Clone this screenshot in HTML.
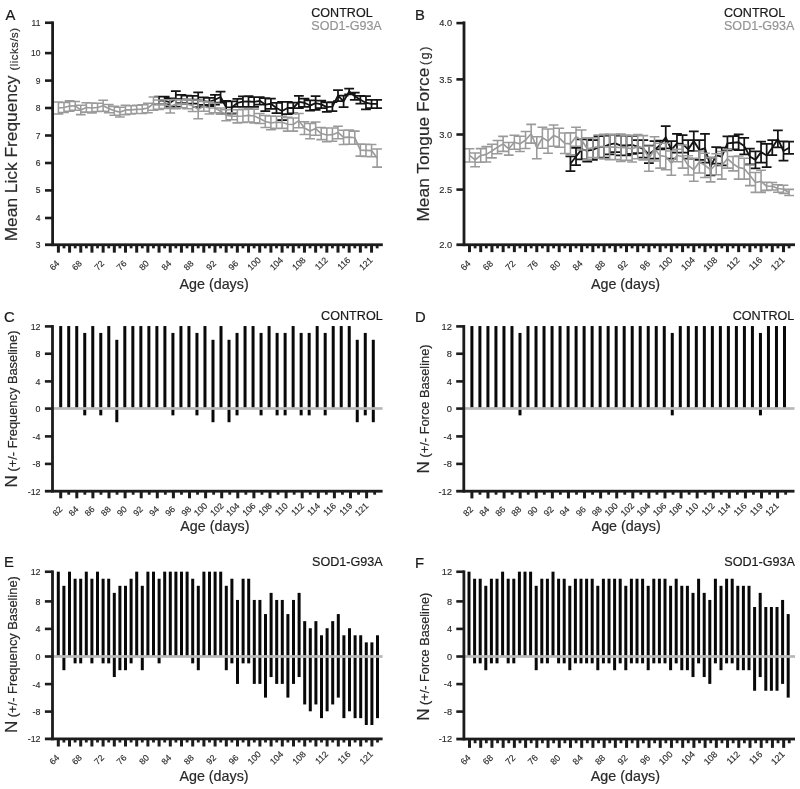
<!DOCTYPE html>
<html lang="en">
<head>
<meta charset="utf-8">
<title>Figure</title>
<style>html,body{margin:0;padding:0;background:#fff}svg{display:block}text{font-family:'Liberation Sans', Arial, Helvetica, sans-serif;stroke-linejoin:round}</style>
</head>
<body>
<svg width="800" height="789" viewBox="0 0 800 789" font-family='"Liberation Sans", Arial, Helvetica, sans-serif'>
<rect width="800" height="789" fill="#fff"/>
<path d="M159.06 96.72V104.43M154.16 96.72H163.96M154.16 104.43H163.96M164.65 96.72V104.43M159.75 96.72H169.55M159.75 104.43H169.55M170.24 98.38V106.63M165.34 98.38H175.14M165.34 106.63H175.14M175.83 91.23V106.62M170.93 91.23H180.73M170.93 106.62H180.73M181.42 94.8V103.05M176.52 94.8H186.32M176.52 103.05H186.32M187.02 95.62V103.87M182.12 95.62H191.92M182.12 103.87H191.92M192.61 95.9V103.6M187.71 95.9H197.51M187.71 103.6H197.51M198.2 92.32V107.17M193.3 92.32H203.1M193.3 107.17H203.1M203.79 97.27V104.98M198.89 97.27H208.69M198.89 104.98H208.69M209.38 97.82V106.07M204.48 97.82H214.28M204.48 106.07H214.28M214.98 94.8V104.7M210.08 94.8H219.88M210.08 104.7H219.88M220.57 91.5V102.5M215.67 91.5H225.47M215.67 102.5H225.47M226.16 100.85V113.5M221.26 100.85H231.06M221.26 113.5H231.06M231.75 101.4V113.5M226.85 101.4H236.65M226.85 113.5H236.65M237.34 98.92V106.9M232.44 98.92H242.24M232.44 106.9H242.24M242.94 96.45V106.9M238.04 96.45H247.84M238.04 106.9H247.84M248.53 96.18V106.9M243.63 96.18H253.43M243.63 106.9H253.43M254.12 97V106.9M249.22 97H259.02M249.22 106.9H259.02M259.71 97.14V104.56M254.81 97.14H264.61M254.81 104.56H264.61M265.3 98.1V111.03M260.4 98.1H270.2M260.4 111.03H270.2M270.9 98.65V108.83M266 98.65H275.8M266 108.83H275.8M276.49 102.91V113.09M271.59 102.91H281.39M271.59 113.09H281.39M282.08 101.81V120.24M277.18 101.81H286.98M277.18 120.24H286.98M287.67 101.81V114.19M282.77 101.81H292.57M282.77 114.19H292.57M293.26 102.64V113.36M288.36 102.64H298.16M288.36 113.36H298.16M298.86 95.9V108M293.96 95.9H303.76M293.96 108H303.76M304.45 98.65V106.9M299.55 98.65H309.35M299.55 106.9H309.35M310.04 100.44V110.61M305.14 100.44H314.94M305.14 110.61H314.94M315.63 96.18V109.93M310.73 96.18H320.53M310.73 109.93H320.53M321.22 100.71V108.14M316.32 100.71H326.12M316.32 108.14H326.12M326.82 102.36V111.99M321.92 102.36H331.72M321.92 111.99H331.72M332.41 102.09V111.16M327.51 102.09H337.31M327.51 111.16H337.31M338 90.13V101.12M333.1 90.13H342.9M333.1 101.12H342.9M343.59 95.62V107.18M338.69 95.62H348.49M338.69 107.18H348.49M349.18 88.61V94.39M344.28 88.61H354.08M344.28 94.39H354.08M354.78 92.6V99.75M349.88 92.6H359.68M349.88 99.75H359.68M360.37 95.76V103.74M355.47 95.76H365.27M355.47 103.74H365.27M365.96 96.18V109.38M361.06 96.18H370.86M361.06 109.38H370.86M371.55 99.75V108M366.65 99.75H376.45M366.65 108H376.45M377.14 99.75V108M372.24 99.75H382.04M372.24 108H382.04" stroke="#141414" stroke-width="1.75" fill="none"/>
<polyline points="159.06,100.58 164.65,100.58 170.24,102.5 175.83,98.92 181.42,98.92 187.02,99.75 192.61,99.75 198.2,99.75 203.79,101.12 209.38,101.95 214.98,99.75 220.57,97 226.16,107.18 231.75,107.45 237.34,102.91 242.94,101.67 248.53,101.54 254.12,101.95 259.71,100.85 265.3,104.56 270.9,103.74 276.49,108 282.08,111.03 287.67,108 293.26,108 298.86,101.95 304.45,102.78 310.04,105.53 315.63,103.05 321.22,104.42 326.82,107.18 332.41,106.62 338,95.63 343.59,101.4 349.18,91.5 354.78,96.18 360.37,99.75 365.96,102.78 371.55,103.87 377.14,103.87" stroke="#141414" stroke-width="1.85" fill="none" stroke-linejoin="round"/>
<path d="M58.4 101.95V114.05M53.5 101.95H63.3M53.5 114.05H63.3M63.99 102.5V112.4M59.09 102.5H68.89M59.09 112.4H68.89M69.58 100.85V111.3M64.68 100.85H74.48M64.68 111.3H74.48M75.18 101.4V110.2M70.28 101.4H80.08M70.28 110.2H80.08M80.77 105.25V114.6M75.87 105.25H85.67M75.87 114.6H85.67M86.36 102.78V112.13M81.46 102.78H91.26M81.46 112.13H91.26M91.95 103.05V112.95M87.05 103.05H96.85M87.05 112.95H96.85M97.54 103.33V111.58M92.64 103.33H102.44M92.64 111.58H102.44M103.14 100.3V111.3M98.24 100.3H108.04M98.24 111.3H108.04M108.73 104.42V112.67M103.83 104.42H113.63M103.83 112.67H113.63M114.32 106.35V115.15M109.42 106.35H119.22M109.42 115.15H119.22M119.91 107.18V117.08M115.01 107.18H124.81M115.01 117.08H124.81M125.5 105.25V114.6M120.6 105.25H130.4M120.6 114.6H130.4M131.1 105.8V114.05M126.2 105.8H136M126.2 114.05H136M136.69 105.25V113.5M131.79 105.25H141.59M131.79 113.5H141.59M142.28 104.7V113.5M137.38 104.7H147.18M137.38 113.5H147.18M147.87 103.33V112.67M142.97 103.33H152.77M142.97 112.67H152.77M153.46 97V110.2M148.56 97H158.36M148.56 110.2H158.36M159.06 100.03V109.38M154.16 100.03H163.96M154.16 109.38H163.96M164.65 99.75V108.55M159.75 99.75H169.55M159.75 108.55H169.55M170.24 99.75V112.95M165.34 99.75H175.14M165.34 112.95H175.14M175.83 99.47V108.82M170.93 99.47H180.73M170.93 108.82H180.73M181.42 100.02V107.73M176.52 100.02H186.32M176.52 107.73H186.32M187.02 98.92V108.82M182.12 98.92H191.92M182.12 108.82H191.92M192.61 100.02V111.58M187.71 100.02H197.51M187.71 111.58H197.51M198.2 100.02V118.72M193.3 100.02H203.1M193.3 118.72H203.1M203.79 101.4V111.3M198.89 101.4H208.69M198.89 111.3H208.69M209.38 101.95V114.05M204.48 101.95H214.28M204.48 114.05H214.28M214.98 103.33V112.67M210.08 103.33H219.88M210.08 112.67H219.88M220.57 108V114.33M215.67 108H225.47M215.67 114.33H225.47M226.16 109.65V120.65M221.26 109.65H231.06M221.26 120.65H231.06M231.75 112.67V119.82M226.85 112.67H236.65M226.85 119.82H236.65M237.34 109.65V122.85M232.44 109.65H242.24M232.44 122.85H242.24M242.94 109.38V122.58M238.04 109.38H247.84M238.04 122.58H247.84M248.53 108.82V122.02M243.63 108.82H253.43M243.63 122.02H253.43M254.12 109.1V122.85M249.22 109.1H259.02M249.22 122.85H259.02M259.71 113.5V123.4M254.81 113.5H264.61M254.81 123.4H264.61M265.3 115.43V127.53M260.4 115.43H270.2M260.4 127.53H270.2M270.9 115.97V129.72M266 115.97H275.8M266 129.72H275.8M276.49 116.25V128.35M271.59 116.25H281.39M271.59 128.35H281.39M282.08 116.25V128.35M277.18 116.25H286.98M277.18 128.35H286.98M287.67 117.35V131.1M282.77 117.35H292.57M282.77 131.1H292.57M293.26 117.9V131.1M288.36 117.9H298.16M288.36 131.1H298.16M298.86 113.5V127.8M293.96 113.5H303.76M293.96 127.8H303.76M304.45 121.75V134.4M299.55 121.75H309.35M299.55 134.4H309.35M310.04 123.4V138.8M305.14 123.4H314.94M305.14 138.8H314.94M315.63 122.02V135.22M310.73 122.02H320.53M310.73 135.22H320.53M321.22 127.53V139.62M316.32 127.53H326.12M316.32 139.62H326.12M326.82 128.08V141.83M321.92 128.08H331.72M321.92 141.83H331.72M332.41 128.07V141.28M327.51 128.07H337.31M327.51 141.28H337.31M338 126.15V138.8M333.1 126.15H342.9M333.1 138.8H342.9M343.59 130.28V144.57M338.69 130.28H348.49M338.69 144.57H348.49M349.18 130V144.3M344.28 130H354.08M344.28 144.3H354.08M354.78 131.1V144.3M349.88 131.1H359.68M349.88 144.3H359.68M360.37 144.03V156.12M355.47 144.03H365.27M355.47 156.12H365.27M365.96 144.3V156.4M361.06 144.3H370.86M361.06 156.4H370.86M371.55 144.57V156.67M366.65 144.57H376.45M366.65 156.67H376.45M377.14 148.98V167.12M372.24 148.98H382.04M372.24 167.12H382.04" stroke="#9a9a9a" stroke-width="1.55" fill="none"/>
<polyline points="58.4,108 63.99,107.45 69.58,106.07 75.18,105.8 80.77,109.93 86.36,107.45 91.95,108 97.54,107.45 103.14,105.8 108.73,108.55 114.32,110.75 119.91,112.13 125.5,109.93 131.1,109.93 136.69,109.38 142.28,109.1 147.87,108 153.46,103.6 159.06,104.7 164.65,104.15 170.24,106.35 175.83,104.15 181.42,103.87 187.02,103.87 192.61,105.8 198.2,109.38 203.79,106.35 209.38,108 214.98,108 220.57,111.16 226.16,115.15 231.75,116.25 237.34,116.25 242.94,115.97 248.53,115.42 254.12,115.97 259.71,118.45 265.3,121.48 270.9,122.85 276.49,122.3 282.08,122.3 287.67,124.22 293.26,124.5 298.86,120.65 304.45,128.08 310.04,131.1 315.63,128.62 321.22,133.57 326.82,134.95 332.41,134.67 338,132.47 343.59,137.43 349.18,137.15 354.78,137.7 360.37,150.08 365.96,150.35 371.55,150.62 377.14,158.05" stroke="#9a9a9a" stroke-width="1.65" fill="none" stroke-linejoin="round"/>
<rect x="51.2" y="21.4" width="2.8" height="224.75" fill="#1c1c1c"/>
<rect x="45" y="243.35" width="337.8" height="2.8" fill="#1c1c1c"/>
<rect x="45" y="21.45" width="7.6" height="2.6" fill="#1c1c1c"/>
<text x="40.4" y="25.8" font-size="8.5" text-anchor="end" fill="#2a2a2a" stroke="#2a2a2a" stroke-width="0.13">11</text>
<rect x="45" y="51.8" width="7.6" height="2.6" fill="#1c1c1c"/>
<text x="40.4" y="56.15" font-size="8.5" text-anchor="end" fill="#2a2a2a" stroke="#2a2a2a" stroke-width="0.13">10</text>
<rect x="45" y="79.3" width="7.6" height="2.6" fill="#1c1c1c"/>
<text x="40.4" y="83.65" font-size="8.5" text-anchor="end" fill="#2a2a2a" stroke="#2a2a2a" stroke-width="0.13">9</text>
<rect x="45" y="106.7" width="7.6" height="2.6" fill="#1c1c1c"/>
<text x="40.4" y="111.05" font-size="8.5" text-anchor="end" fill="#2a2a2a" stroke="#2a2a2a" stroke-width="0.13">8</text>
<rect x="45" y="134.2" width="7.6" height="2.6" fill="#1c1c1c"/>
<text x="40.4" y="138.55" font-size="8.5" text-anchor="end" fill="#2a2a2a" stroke="#2a2a2a" stroke-width="0.13">7</text>
<rect x="45" y="161.7" width="7.6" height="2.6" fill="#1c1c1c"/>
<text x="40.4" y="166.05" font-size="8.5" text-anchor="end" fill="#2a2a2a" stroke="#2a2a2a" stroke-width="0.13">6</text>
<rect x="45" y="189.1" width="7.6" height="2.6" fill="#1c1c1c"/>
<text x="40.4" y="193.45" font-size="8.5" text-anchor="end" fill="#2a2a2a" stroke="#2a2a2a" stroke-width="0.13">5</text>
<rect x="45" y="216.7" width="7.6" height="2.6" fill="#1c1c1c"/>
<text x="40.4" y="221.05" font-size="8.5" text-anchor="end" fill="#2a2a2a" stroke="#2a2a2a" stroke-width="0.13">4</text>
<text x="40.4" y="247.8" font-size="8.5" text-anchor="end" fill="#2a2a2a" stroke="#2a2a2a" stroke-width="0.13">3</text>
<rect x="56.9" y="244.75" width="3" height="7.9" fill="#1c1c1c"/>
<text x="60.1" y="264.15" font-size="8.8" text-anchor="end" fill="#2a2a2a" stroke="#2a2a2a" stroke-width="0.13" transform="rotate(-45 60.1 264.15)">64</text>
<rect x="62.59" y="244.75" width="2.8" height="3.6" fill="#1c1c1c"/>
<rect x="68.08" y="244.75" width="3" height="7.9" fill="#1c1c1c"/>
<rect x="73.78" y="244.75" width="2.8" height="3.6" fill="#1c1c1c"/>
<rect x="79.27" y="244.75" width="3" height="7.9" fill="#1c1c1c"/>
<text x="82.47" y="264.15" font-size="8.8" text-anchor="end" fill="#2a2a2a" stroke="#2a2a2a" stroke-width="0.13" transform="rotate(-45 82.47 264.15)">68</text>
<rect x="84.96" y="244.75" width="2.8" height="3.6" fill="#1c1c1c"/>
<rect x="90.45" y="244.75" width="3" height="7.9" fill="#1c1c1c"/>
<rect x="96.14" y="244.75" width="2.8" height="3.6" fill="#1c1c1c"/>
<rect x="101.64" y="244.75" width="3" height="7.9" fill="#1c1c1c"/>
<text x="104.84" y="264.15" font-size="8.8" text-anchor="end" fill="#2a2a2a" stroke="#2a2a2a" stroke-width="0.13" transform="rotate(-45 104.84 264.15)">72</text>
<rect x="107.33" y="244.75" width="2.8" height="3.6" fill="#1c1c1c"/>
<rect x="112.82" y="244.75" width="3" height="7.9" fill="#1c1c1c"/>
<rect x="118.51" y="244.75" width="2.8" height="3.6" fill="#1c1c1c"/>
<rect x="124" y="244.75" width="3" height="7.9" fill="#1c1c1c"/>
<text x="127.2" y="264.15" font-size="8.8" text-anchor="end" fill="#2a2a2a" stroke="#2a2a2a" stroke-width="0.13" transform="rotate(-45 127.2 264.15)">76</text>
<rect x="129.7" y="244.75" width="2.8" height="3.6" fill="#1c1c1c"/>
<rect x="135.19" y="244.75" width="3" height="7.9" fill="#1c1c1c"/>
<rect x="140.88" y="244.75" width="2.8" height="3.6" fill="#1c1c1c"/>
<rect x="146.37" y="244.75" width="3" height="7.9" fill="#1c1c1c"/>
<text x="149.57" y="264.15" font-size="8.8" text-anchor="end" fill="#2a2a2a" stroke="#2a2a2a" stroke-width="0.13" transform="rotate(-45 149.57 264.15)">80</text>
<rect x="152.06" y="244.75" width="2.8" height="3.6" fill="#1c1c1c"/>
<rect x="157.56" y="244.75" width="3" height="7.9" fill="#1c1c1c"/>
<rect x="163.25" y="244.75" width="2.8" height="3.6" fill="#1c1c1c"/>
<rect x="168.74" y="244.75" width="3" height="7.9" fill="#1c1c1c"/>
<text x="171.94" y="264.15" font-size="8.8" text-anchor="end" fill="#2a2a2a" stroke="#2a2a2a" stroke-width="0.13" transform="rotate(-45 171.94 264.15)">84</text>
<rect x="174.43" y="244.75" width="2.8" height="3.6" fill="#1c1c1c"/>
<rect x="179.92" y="244.75" width="3" height="7.9" fill="#1c1c1c"/>
<rect x="185.62" y="244.75" width="2.8" height="3.6" fill="#1c1c1c"/>
<rect x="191.11" y="244.75" width="3" height="7.9" fill="#1c1c1c"/>
<text x="194.31" y="264.15" font-size="8.8" text-anchor="end" fill="#2a2a2a" stroke="#2a2a2a" stroke-width="0.13" transform="rotate(-45 194.31 264.15)">88</text>
<rect x="196.8" y="244.75" width="2.8" height="3.6" fill="#1c1c1c"/>
<rect x="202.29" y="244.75" width="3" height="7.9" fill="#1c1c1c"/>
<rect x="207.98" y="244.75" width="2.8" height="3.6" fill="#1c1c1c"/>
<rect x="213.48" y="244.75" width="3" height="7.9" fill="#1c1c1c"/>
<text x="216.68" y="264.15" font-size="8.8" text-anchor="end" fill="#2a2a2a" stroke="#2a2a2a" stroke-width="0.13" transform="rotate(-45 216.68 264.15)">92</text>
<rect x="219.17" y="244.75" width="2.8" height="3.6" fill="#1c1c1c"/>
<rect x="224.66" y="244.75" width="3" height="7.9" fill="#1c1c1c"/>
<rect x="230.35" y="244.75" width="2.8" height="3.6" fill="#1c1c1c"/>
<rect x="235.84" y="244.75" width="3" height="7.9" fill="#1c1c1c"/>
<text x="239.04" y="264.15" font-size="8.8" text-anchor="end" fill="#2a2a2a" stroke="#2a2a2a" stroke-width="0.13" transform="rotate(-45 239.04 264.15)">96</text>
<rect x="241.54" y="244.75" width="2.8" height="3.6" fill="#1c1c1c"/>
<rect x="247.03" y="244.75" width="3" height="7.9" fill="#1c1c1c"/>
<rect x="252.72" y="244.75" width="2.8" height="3.6" fill="#1c1c1c"/>
<rect x="258.21" y="244.75" width="3" height="7.9" fill="#1c1c1c"/>
<text x="261.41" y="260.69" font-size="8.8" text-anchor="end" fill="#2a2a2a" stroke="#2a2a2a" stroke-width="0.13" transform="rotate(-45 261.41 260.69)">100</text>
<rect x="263.9" y="244.75" width="2.8" height="3.6" fill="#1c1c1c"/>
<rect x="269.4" y="244.75" width="3" height="7.9" fill="#1c1c1c"/>
<rect x="275.09" y="244.75" width="2.8" height="3.6" fill="#1c1c1c"/>
<rect x="280.58" y="244.75" width="3" height="7.9" fill="#1c1c1c"/>
<text x="283.78" y="260.69" font-size="8.8" text-anchor="end" fill="#2a2a2a" stroke="#2a2a2a" stroke-width="0.13" transform="rotate(-45 283.78 260.69)">104</text>
<rect x="286.27" y="244.75" width="2.8" height="3.6" fill="#1c1c1c"/>
<rect x="291.76" y="244.75" width="3" height="7.9" fill="#1c1c1c"/>
<rect x="297.46" y="244.75" width="2.8" height="3.6" fill="#1c1c1c"/>
<rect x="302.95" y="244.75" width="3" height="7.9" fill="#1c1c1c"/>
<text x="306.15" y="260.69" font-size="8.8" text-anchor="end" fill="#2a2a2a" stroke="#2a2a2a" stroke-width="0.13" transform="rotate(-45 306.15 260.69)">108</text>
<rect x="308.64" y="244.75" width="2.8" height="3.6" fill="#1c1c1c"/>
<rect x="314.13" y="244.75" width="3" height="7.9" fill="#1c1c1c"/>
<rect x="319.82" y="244.75" width="2.8" height="3.6" fill="#1c1c1c"/>
<rect x="325.32" y="244.75" width="3" height="7.9" fill="#1c1c1c"/>
<text x="328.52" y="260.69" font-size="8.8" text-anchor="end" fill="#2a2a2a" stroke="#2a2a2a" stroke-width="0.13" transform="rotate(-45 328.52 260.69)">112</text>
<rect x="331.01" y="244.75" width="2.8" height="3.6" fill="#1c1c1c"/>
<rect x="336.5" y="244.75" width="3" height="7.9" fill="#1c1c1c"/>
<rect x="342.19" y="244.75" width="2.8" height="3.6" fill="#1c1c1c"/>
<rect x="347.68" y="244.75" width="3" height="7.9" fill="#1c1c1c"/>
<text x="350.88" y="260.69" font-size="8.8" text-anchor="end" fill="#2a2a2a" stroke="#2a2a2a" stroke-width="0.13" transform="rotate(-45 350.88 260.69)">116</text>
<rect x="353.38" y="244.75" width="2.8" height="3.6" fill="#1c1c1c"/>
<rect x="358.87" y="244.75" width="3" height="7.9" fill="#1c1c1c"/>
<rect x="364.56" y="244.75" width="2.8" height="3.6" fill="#1c1c1c"/>
<rect x="370.05" y="244.75" width="3" height="7.9" fill="#1c1c1c"/>
<text x="373.25" y="260.69" font-size="8.8" text-anchor="end" fill="#2a2a2a" stroke="#2a2a2a" stroke-width="0.13" transform="rotate(-45 373.25 260.69)">121</text>
<rect x="375.74" y="244.75" width="2.8" height="3.6" fill="#1c1c1c"/>
<text x="214.1" y="288.5" font-size="14.3" text-anchor="middle" fill="#2a2a2a" stroke="#2a2a2a" stroke-width="0.21">Age (days)</text>
<text x="5.6" y="19.6" font-size="14.8" text-anchor="start" fill="#1a1a1a" stroke="#1a1a1a" stroke-width="0.22">A</text>
<text x="17.2" y="241.3" transform="rotate(-90 17.2 241.3)" fill="#2a2a2a" stroke="#2a2a2a" stroke-width="0.2" font-size="17.33">Mean Lick Frequency</text>
<text x="18.2" y="70.6" transform="rotate(-90 18.2 70.6)" fill="#2a2a2a" stroke="#2a2a2a" stroke-width="0.2" font-size="11.3" letter-spacing="0.55">(licks/s)</text>
<text x="311.3" y="17.2" font-size="12.55" text-anchor="start" fill="#1a1a1a" stroke="#1a1a1a" stroke-width="0.19">CONTROL</text>
<text x="311.3" y="30" font-size="12.55" text-anchor="start" fill="#949494" stroke="#949494" stroke-width="0.19">SOD1-G93A</text>
<path d="M570.43 156.32V171.09M565.53 156.32H575.33M565.53 171.09H575.33M576.03 147.94V165.14M571.13 147.94H580.93M571.13 165.14H580.93M581.64 139.46V159.29M576.74 139.46H586.54M576.74 159.29H586.54M587.25 139.46V161.5M582.35 139.46H592.15M582.35 161.5H592.15M592.85 140.01V159.85M587.95 140.01H597.75M587.95 159.85H597.75M598.46 136.15V158.19M593.56 136.15H603.36M593.56 158.19H603.36M604.07 135.6V157.64M599.17 135.6H608.97M599.17 157.64H608.97M609.67 134.5V154.34M604.77 134.5H614.57M604.77 154.34H614.57M615.28 134.5V152.13M610.38 134.5H620.18M610.38 152.13H620.18M620.89 135.6V155.44M615.99 135.6H625.79M615.99 155.44H625.79M626.5 135.6V155.44M621.6 135.6H631.4M621.6 155.44H631.4M632.1 136.15V153.79M627.2 136.15H637M627.2 153.79H637M637.71 140.01V153.23M632.81 140.01H642.61M632.81 153.23H642.61M643.32 140.01V157.64M638.42 140.01H648.22M638.42 157.64H648.22M648.92 145.52V163.15M644.02 145.52H653.82M644.02 163.15H653.82M654.53 141.11V158.74M649.63 141.11H659.43M649.63 158.74H659.43M660.14 140.56V149.38M655.24 140.56H665.04M655.24 149.38H665.04M665.75 126.23V148.28M660.85 126.23H670.64M660.85 148.28H670.64M671.35 141.11V158.74M666.45 141.11H676.25M666.45 158.74H676.25M676.96 133.95V152.68M672.06 133.95H681.86M672.06 152.68H681.86M682.57 135.05V152.68M677.67 135.05H687.47M677.67 152.68H687.47M688.17 140.01V158.74M683.27 140.01H693.07M683.27 158.74H693.07M693.78 131.41V150.81M688.88 131.41H698.68M688.88 150.81H698.68M699.39 140.01V159.85M694.49 140.01H704.29M694.49 159.85H704.29M704.99 133.95V162.6M700.09 133.95H709.89M700.09 162.6H709.89M710.6 157.64V175.27M705.7 157.64H715.5M705.7 175.27H715.5M716.21 147.17V163.7M711.31 147.17H721.11M711.31 163.7H721.11M721.82 147.72V165.36M716.92 147.72H726.72M716.92 165.36H726.72M727.42 136.37V150.26M722.52 136.37H732.32M722.52 150.26H732.32M733.03 136.15V149.38M728.13 136.15H737.93M728.13 149.38H737.93M738.64 134.28V150.15M733.74 134.28H743.54M733.74 150.15H743.54M744.24 137.81V154.34M739.34 137.81H749.14M739.34 154.34H749.14M749.85 148.61V164.47M744.95 148.61H754.75M744.95 164.47H754.75M755.46 151.25V168.44M750.56 151.25H760.36M750.56 168.44H760.36M761.06 141.66V162.6M756.16 141.66H765.96M756.16 162.6H765.96M766.67 143.87V167.01M761.77 143.87H771.57M761.77 167.01H771.57M772.28 140.23V155.22M767.38 140.23H777.18M767.38 155.22H777.18M777.88 130.42V147.39M772.99 130.42H782.78M772.99 147.39H782.78M783.49 141.33V160.73M778.59 141.33H788.39M778.59 160.73H788.39M789.1 141.66V153.79M784.2 141.66H794M784.2 153.79H794" stroke="#141414" stroke-width="1.75" fill="none"/>
<polyline points="570.43,163.7 576.03,156.54 581.64,149.38 587.25,150.48 592.85,149.93 598.46,147.17 604.07,146.62 609.67,144.42 615.28,143.32 620.89,145.52 626.5,145.52 632.1,144.97 637.71,146.62 643.32,148.83 648.92,154.34 654.53,149.93 660.14,144.97 665.75,137.25 671.35,149.93 676.96,143.32 682.57,143.87 688.17,149.38 693.78,141.11 699.39,149.93 704.99,148.28 710.6,166.46 716.21,155.44 721.82,156.54 727.42,143.32 733.03,142.77 738.64,142.21 744.24,146.07 749.85,156.54 755.46,159.85 761.06,152.13 766.67,155.44 772.28,147.72 777.88,138.91 783.49,151.03 789.1,147.72" stroke="#141414" stroke-width="1.85" fill="none" stroke-linejoin="round"/>
<path d="M469.5 148.83V162.05M464.6 148.83H474.4M464.6 162.05H474.4M475.11 153.01V166.68M470.21 153.01H480.01M470.21 166.68H480.01M480.71 148.61V162.27M475.81 148.61H485.61M475.81 162.27H485.61M486.32 146.62V162.05M481.42 146.62H491.22M481.42 162.05H491.22M491.93 144.2V157.86M487.03 144.2H496.83M487.03 157.86H496.83M497.54 140.56V153.79M492.64 140.56H502.44M492.64 153.79H502.44M503.14 136.37V151.36M498.24 136.37H508.04M498.24 151.36H508.04M508.75 142.54V155.11M503.85 142.54H513.65M503.85 155.11H513.65M514.36 135.16V149.27M509.46 135.16H519.26M509.46 149.27H519.26M519.96 136.15V151.58M515.06 136.15H524.86M515.06 151.58H524.86M525.57 131.52V148.5M520.67 131.52H530.47M520.67 148.5H530.47M531.18 124.36V143.1M526.28 124.36H536.08M526.28 143.1H536.08M536.78 136.7V158.74M531.88 136.7H541.68M531.88 158.74H541.68M542.39 127.34V148.28M537.49 127.34H547.29M537.49 148.28H547.29M548 128.99V153.23M543.1 128.99H552.9M543.1 153.23H552.9M553.61 124.91V146.29M548.71 124.91H558.5M548.71 146.29H558.5M559.21 128.33V147.28M554.31 128.33H564.11M554.31 147.28H564.11M564.82 133.07V153.56M559.92 133.07H569.72M559.92 153.56H569.72M570.43 132.85V154.89M565.53 132.85H575.33M565.53 154.89H575.33M576.03 127.23V146.18M571.13 127.23H580.93M571.13 146.18H580.93M581.64 130.09V149.93M576.74 130.09H586.54M576.74 149.93H586.54M587.25 137.81V159.85M582.35 137.81H592.15M582.35 159.85H592.15M592.85 137.81V157.64M587.95 137.81H597.75M587.95 157.64H597.75M598.46 135.05V158.19M593.56 135.05H603.36M593.56 158.19H603.36M604.07 134.17V159.07M599.17 134.17H608.97M599.17 159.07H608.97M609.67 134.72V159.63M604.77 134.72H614.57M604.77 159.63H614.57M615.28 134.72V159.63M610.38 134.72H620.18M610.38 159.63H620.18M620.89 133.95V161.5M615.99 133.95H625.79M615.99 161.5H625.79M626.5 135.27V160.18M621.6 135.27H631.4M621.6 160.18H631.4M632.1 135.6V162.05M627.2 135.6H637M627.2 162.05H637M637.71 134.5V158.74M632.81 134.5H642.61M632.81 158.74H642.61M643.32 135.6V159.85M638.42 135.6H648.22M638.42 159.85H648.22M648.92 146.29V171.2M644.02 146.29H653.82M644.02 171.2H653.82M654.53 136.7V160.95M649.63 136.7H659.43M649.63 160.95H659.43M660.14 143.21V168.11M655.24 143.21H665.04M655.24 168.11H665.04M665.75 143.32V169.76M660.85 143.32H670.64M660.85 169.76H670.64M671.35 151.03V175.27M666.45 151.03H676.25M666.45 175.27H676.25M676.96 149.16V161.72M672.06 149.16H681.86M672.06 161.72H681.86M682.57 144.97V168.11M677.67 144.97H687.47M677.67 168.11H687.47M688.17 155.77V174.94M683.27 155.77H693.07M683.27 174.94H693.07M693.78 158.19V181.33M688.88 158.19H698.68M688.88 181.33H698.68M699.39 151.03V173.07M694.49 151.03H704.29M694.49 173.07H704.29M704.99 153.23V177.48M700.09 153.23H709.89M700.09 177.48H709.89M710.6 157.64V181.89M705.7 157.64H715.5M705.7 181.89H715.5M716.21 153.78V174.72M711.31 153.78H721.11M711.31 174.72H721.11M721.82 151.58V179.13M716.92 151.58H726.72M716.92 179.13H726.72M727.42 149.38V168.11M722.52 149.38H732.32M722.52 168.11H732.32M733.03 156.54V170.87M728.13 156.54H737.93M728.13 170.87H737.93M738.64 155.99V179.13M733.74 155.99H743.54M733.74 179.13H743.54M744.24 158.19V179.13M739.34 158.19H749.14M739.34 179.13H749.14M749.85 164.92V185.63M744.95 164.92H754.75M744.95 185.63H754.75M755.46 172.52V192.35M750.56 172.52H760.36M750.56 192.35H760.36M761.06 170.31V192.35M756.16 170.31H765.96M756.16 192.35H765.96M766.67 182.22V190.37M761.77 182.22H771.57M761.77 190.37H771.57M772.28 182.55V190.04M767.38 182.55H777.18M767.38 190.04H777.18M777.88 184.75V192.24M772.99 184.75H782.78M772.99 192.24H782.78M783.49 185.19V193.35M778.59 185.19H788.39M778.59 193.35H788.39M789.1 189.38V195.55M784.2 189.38H794M784.2 195.55H794" stroke="#9a9a9a" stroke-width="1.55" fill="none"/>
<polyline points="469.5,155.44 475.11,159.85 480.71,155.44 486.32,154.34 491.93,151.03 497.54,147.17 503.14,143.87 508.75,148.83 514.36,142.21 519.96,143.87 525.57,140.01 531.18,133.73 536.78,147.72 542.39,137.81 548,141.11 553.61,135.6 559.21,137.81 564.82,143.32 570.43,143.87 576.03,136.7 581.64,140.01 587.25,148.83 592.85,147.72 598.46,146.62 604.07,146.62 609.67,147.17 615.28,147.17 620.89,147.72 626.5,147.72 632.1,148.83 637.71,146.62 643.32,147.72 648.92,158.74 654.53,148.83 660.14,155.66 665.75,156.54 671.35,163.15 676.96,155.44 682.57,156.54 688.17,165.36 693.78,169.76 699.39,162.05 704.99,165.36 710.6,169.76 716.21,164.25 721.82,165.36 727.42,158.74 733.03,163.7 738.64,167.56 744.24,168.66 749.85,175.27 755.46,182.44 761.06,181.33 766.67,186.29 772.28,186.29 777.88,188.5 783.49,189.27 789.1,192.47" stroke="#9a9a9a" stroke-width="1.65" fill="none" stroke-linejoin="round"/>
<rect x="462.6" y="21.4" width="2.8" height="224.75" fill="#1c1c1c"/>
<rect x="456.4" y="243.35" width="338.6" height="2.8" fill="#1c1c1c"/>
<rect x="456.4" y="21.8" width="7.6" height="2.6" fill="#1c1c1c"/>
<text x="452.1" y="26.4" font-size="9.3" text-anchor="end" fill="#2a2a2a" stroke="#2a2a2a" stroke-width="0.14">4.0</text>
<rect x="456.4" y="78.1" width="7.6" height="2.6" fill="#1c1c1c"/>
<text x="452.1" y="82.7" font-size="9.3" text-anchor="end" fill="#2a2a2a" stroke="#2a2a2a" stroke-width="0.14">3.5</text>
<rect x="456.4" y="133.2" width="7.6" height="2.6" fill="#1c1c1c"/>
<text x="452.1" y="137.8" font-size="9.3" text-anchor="end" fill="#2a2a2a" stroke="#2a2a2a" stroke-width="0.14">3.0</text>
<rect x="456.4" y="188.3" width="7.6" height="2.6" fill="#1c1c1c"/>
<text x="452.1" y="192.9" font-size="9.3" text-anchor="end" fill="#2a2a2a" stroke="#2a2a2a" stroke-width="0.14">2.5</text>
<text x="452.1" y="248.05" font-size="9.3" text-anchor="end" fill="#2a2a2a" stroke="#2a2a2a" stroke-width="0.14">2.0</text>
<rect x="468" y="244.75" width="3" height="7.4" fill="#1c1c1c"/>
<text x="471.3" y="264.15" font-size="9.1" text-anchor="end" fill="#2a2a2a" stroke="#2a2a2a" stroke-width="0.14" transform="rotate(-45 471.3 264.15)">64</text>
<rect x="473.71" y="244.75" width="2.8" height="3.6" fill="#1c1c1c"/>
<rect x="479.21" y="244.75" width="3" height="7.4" fill="#1c1c1c"/>
<rect x="484.92" y="244.75" width="2.8" height="3.6" fill="#1c1c1c"/>
<rect x="490.43" y="244.75" width="3" height="7.4" fill="#1c1c1c"/>
<text x="493.73" y="264.15" font-size="9.1" text-anchor="end" fill="#2a2a2a" stroke="#2a2a2a" stroke-width="0.14" transform="rotate(-45 493.73 264.15)">68</text>
<rect x="496.14" y="244.75" width="2.8" height="3.6" fill="#1c1c1c"/>
<rect x="501.64" y="244.75" width="3" height="7.4" fill="#1c1c1c"/>
<rect x="507.35" y="244.75" width="2.8" height="3.6" fill="#1c1c1c"/>
<rect x="512.86" y="244.75" width="3" height="7.4" fill="#1c1c1c"/>
<text x="516.16" y="264.15" font-size="9.1" text-anchor="end" fill="#2a2a2a" stroke="#2a2a2a" stroke-width="0.14" transform="rotate(-45 516.16 264.15)">72</text>
<rect x="518.56" y="244.75" width="2.8" height="3.6" fill="#1c1c1c"/>
<rect x="524.07" y="244.75" width="3" height="7.4" fill="#1c1c1c"/>
<rect x="529.78" y="244.75" width="2.8" height="3.6" fill="#1c1c1c"/>
<rect x="535.28" y="244.75" width="3" height="7.4" fill="#1c1c1c"/>
<text x="538.58" y="264.15" font-size="9.1" text-anchor="end" fill="#2a2a2a" stroke="#2a2a2a" stroke-width="0.14" transform="rotate(-45 538.58 264.15)">76</text>
<rect x="540.99" y="244.75" width="2.8" height="3.6" fill="#1c1c1c"/>
<rect x="546.5" y="244.75" width="3" height="7.4" fill="#1c1c1c"/>
<rect x="552.21" y="244.75" width="2.8" height="3.6" fill="#1c1c1c"/>
<rect x="557.71" y="244.75" width="3" height="7.4" fill="#1c1c1c"/>
<text x="561.01" y="264.15" font-size="9.1" text-anchor="end" fill="#2a2a2a" stroke="#2a2a2a" stroke-width="0.14" transform="rotate(-45 561.01 264.15)">80</text>
<rect x="563.42" y="244.75" width="2.8" height="3.6" fill="#1c1c1c"/>
<rect x="568.93" y="244.75" width="3" height="7.4" fill="#1c1c1c"/>
<rect x="574.63" y="244.75" width="2.8" height="3.6" fill="#1c1c1c"/>
<rect x="580.14" y="244.75" width="3" height="7.4" fill="#1c1c1c"/>
<text x="583.44" y="264.15" font-size="9.1" text-anchor="end" fill="#2a2a2a" stroke="#2a2a2a" stroke-width="0.14" transform="rotate(-45 583.44 264.15)">84</text>
<rect x="585.85" y="244.75" width="2.8" height="3.6" fill="#1c1c1c"/>
<rect x="591.35" y="244.75" width="3" height="7.4" fill="#1c1c1c"/>
<rect x="597.06" y="244.75" width="2.8" height="3.6" fill="#1c1c1c"/>
<rect x="602.57" y="244.75" width="3" height="7.4" fill="#1c1c1c"/>
<text x="605.87" y="264.15" font-size="9.1" text-anchor="end" fill="#2a2a2a" stroke="#2a2a2a" stroke-width="0.14" transform="rotate(-45 605.87 264.15)">88</text>
<rect x="608.27" y="244.75" width="2.8" height="3.6" fill="#1c1c1c"/>
<rect x="613.78" y="244.75" width="3" height="7.4" fill="#1c1c1c"/>
<rect x="619.49" y="244.75" width="2.8" height="3.6" fill="#1c1c1c"/>
<rect x="625" y="244.75" width="3" height="7.4" fill="#1c1c1c"/>
<text x="628.3" y="264.15" font-size="9.1" text-anchor="end" fill="#2a2a2a" stroke="#2a2a2a" stroke-width="0.14" transform="rotate(-45 628.3 264.15)">92</text>
<rect x="630.7" y="244.75" width="2.8" height="3.6" fill="#1c1c1c"/>
<rect x="636.21" y="244.75" width="3" height="7.4" fill="#1c1c1c"/>
<rect x="641.92" y="244.75" width="2.8" height="3.6" fill="#1c1c1c"/>
<rect x="647.42" y="244.75" width="3" height="7.4" fill="#1c1c1c"/>
<text x="650.72" y="264.15" font-size="9.1" text-anchor="end" fill="#2a2a2a" stroke="#2a2a2a" stroke-width="0.14" transform="rotate(-45 650.72 264.15)">96</text>
<rect x="653.13" y="244.75" width="2.8" height="3.6" fill="#1c1c1c"/>
<rect x="658.64" y="244.75" width="3" height="7.4" fill="#1c1c1c"/>
<rect x="664.35" y="244.75" width="2.8" height="3.6" fill="#1c1c1c"/>
<rect x="669.85" y="244.75" width="3" height="7.4" fill="#1c1c1c"/>
<text x="673.15" y="260.57" font-size="9.1" text-anchor="end" fill="#2a2a2a" stroke="#2a2a2a" stroke-width="0.14" transform="rotate(-45 673.15 260.57)">100</text>
<rect x="675.56" y="244.75" width="2.8" height="3.6" fill="#1c1c1c"/>
<rect x="681.07" y="244.75" width="3" height="7.4" fill="#1c1c1c"/>
<rect x="686.77" y="244.75" width="2.8" height="3.6" fill="#1c1c1c"/>
<rect x="692.28" y="244.75" width="3" height="7.4" fill="#1c1c1c"/>
<text x="695.58" y="260.57" font-size="9.1" text-anchor="end" fill="#2a2a2a" stroke="#2a2a2a" stroke-width="0.14" transform="rotate(-45 695.58 260.57)">104</text>
<rect x="697.99" y="244.75" width="2.8" height="3.6" fill="#1c1c1c"/>
<rect x="703.49" y="244.75" width="3" height="7.4" fill="#1c1c1c"/>
<rect x="709.2" y="244.75" width="2.8" height="3.6" fill="#1c1c1c"/>
<rect x="714.71" y="244.75" width="3" height="7.4" fill="#1c1c1c"/>
<text x="718.01" y="260.57" font-size="9.1" text-anchor="end" fill="#2a2a2a" stroke="#2a2a2a" stroke-width="0.14" transform="rotate(-45 718.01 260.57)">108</text>
<rect x="720.42" y="244.75" width="2.8" height="3.6" fill="#1c1c1c"/>
<rect x="725.92" y="244.75" width="3" height="7.4" fill="#1c1c1c"/>
<rect x="731.63" y="244.75" width="2.8" height="3.6" fill="#1c1c1c"/>
<rect x="737.14" y="244.75" width="3" height="7.4" fill="#1c1c1c"/>
<text x="740.44" y="260.57" font-size="9.1" text-anchor="end" fill="#2a2a2a" stroke="#2a2a2a" stroke-width="0.14" transform="rotate(-45 740.44 260.57)">112</text>
<rect x="742.84" y="244.75" width="2.8" height="3.6" fill="#1c1c1c"/>
<rect x="748.35" y="244.75" width="3" height="7.4" fill="#1c1c1c"/>
<rect x="754.06" y="244.75" width="2.8" height="3.6" fill="#1c1c1c"/>
<rect x="759.56" y="244.75" width="3" height="7.4" fill="#1c1c1c"/>
<text x="762.86" y="260.57" font-size="9.1" text-anchor="end" fill="#2a2a2a" stroke="#2a2a2a" stroke-width="0.14" transform="rotate(-45 762.86 260.57)">116</text>
<rect x="765.27" y="244.75" width="2.8" height="3.6" fill="#1c1c1c"/>
<rect x="770.78" y="244.75" width="3" height="7.4" fill="#1c1c1c"/>
<rect x="776.49" y="244.75" width="2.8" height="3.6" fill="#1c1c1c"/>
<rect x="781.99" y="244.75" width="3" height="7.4" fill="#1c1c1c"/>
<text x="785.29" y="260.57" font-size="9.1" text-anchor="end" fill="#2a2a2a" stroke="#2a2a2a" stroke-width="0.14" transform="rotate(-45 785.29 260.57)">121</text>
<rect x="787.7" y="244.75" width="2.8" height="3.6" fill="#1c1c1c"/>
<text x="625.5" y="288.5" font-size="14.3" text-anchor="middle" fill="#2a2a2a" stroke="#2a2a2a" stroke-width="0.21">Age (days)</text>
<text x="415" y="19.75" font-size="14.8" text-anchor="start" fill="#1a1a1a" stroke="#1a1a1a" stroke-width="0.22">B</text>
<text x="429.2" y="221.6" transform="rotate(-90 429.2 221.6)" fill="#2a2a2a" stroke="#2a2a2a" stroke-width="0.2" font-size="17.35">Mean Tongue Force</text>
<text x="428.8" y="65" transform="rotate(-90 428.8 65)" fill="#2a2a2a" stroke="#2a2a2a" stroke-width="0.2" font-size="12.3" letter-spacing="1.6">(g)</text>
<text x="724" y="17.2" font-size="12.55" text-anchor="start" fill="#1a1a1a" stroke="#1a1a1a" stroke-width="0.19">CONTROL</text>
<text x="724" y="30" font-size="12.55" text-anchor="start" fill="#949494" stroke="#949494" stroke-width="0.19">SOD1-G93A</text>
<rect x="59.2" y="326.06" width="3" height="82.44" fill="#080808"/>
<rect x="67.22" y="326.06" width="3" height="82.44" fill="#080808"/>
<rect x="75.23" y="326.06" width="3" height="82.44" fill="#080808"/>
<rect x="83.25" y="332.93" width="3" height="82.42" fill="#080808"/>
<rect x="91.26" y="326.06" width="3" height="82.44" fill="#080808"/>
<rect x="99.28" y="332.93" width="3" height="82.42" fill="#080808"/>
<rect x="107.29" y="326.06" width="3" height="82.44" fill="#080808"/>
<rect x="115.31" y="339.8" width="3" height="82.4" fill="#080808"/>
<rect x="123.32" y="326.06" width="3" height="82.44" fill="#080808"/>
<rect x="131.34" y="326.06" width="3" height="82.44" fill="#080808"/>
<rect x="139.35" y="326.06" width="3" height="82.44" fill="#080808"/>
<rect x="147.37" y="326.06" width="3" height="82.44" fill="#080808"/>
<rect x="155.38" y="326.06" width="3" height="82.44" fill="#080808"/>
<rect x="163.4" y="326.06" width="3" height="82.44" fill="#080808"/>
<rect x="171.41" y="332.93" width="3" height="82.42" fill="#080808"/>
<rect x="179.43" y="326.06" width="3" height="82.44" fill="#080808"/>
<rect x="187.44" y="326.06" width="3" height="82.44" fill="#080808"/>
<rect x="195.45" y="332.93" width="3" height="82.42" fill="#080808"/>
<rect x="203.47" y="326.06" width="3" height="82.44" fill="#080808"/>
<rect x="211.49" y="339.8" width="3" height="82.4" fill="#080808"/>
<rect x="219.5" y="326.06" width="3" height="82.44" fill="#080808"/>
<rect x="227.51" y="339.8" width="3" height="82.4" fill="#080808"/>
<rect x="235.53" y="332.93" width="3" height="82.42" fill="#080808"/>
<rect x="243.55" y="326.06" width="3" height="82.44" fill="#080808"/>
<rect x="251.56" y="326.06" width="3" height="82.44" fill="#080808"/>
<rect x="259.57" y="332.93" width="3" height="82.42" fill="#080808"/>
<rect x="267.59" y="326.06" width="3" height="82.44" fill="#080808"/>
<rect x="275.61" y="332.93" width="3" height="82.42" fill="#080808"/>
<rect x="283.62" y="332.93" width="3" height="82.42" fill="#080808"/>
<rect x="291.63" y="326.06" width="3" height="82.44" fill="#080808"/>
<rect x="299.65" y="332.93" width="3" height="82.42" fill="#080808"/>
<rect x="307.67" y="332.93" width="3" height="82.42" fill="#080808"/>
<rect x="315.68" y="326.06" width="3" height="82.44" fill="#080808"/>
<rect x="323.69" y="332.93" width="3" height="82.42" fill="#080808"/>
<rect x="331.71" y="326.06" width="3" height="82.44" fill="#080808"/>
<rect x="339.73" y="326.06" width="3" height="82.44" fill="#080808"/>
<rect x="347.74" y="326.06" width="3" height="82.44" fill="#080808"/>
<rect x="355.75" y="339.8" width="3" height="82.4" fill="#080808"/>
<rect x="363.77" y="332.93" width="3" height="82.42" fill="#080808"/>
<rect x="371.79" y="339.8" width="3" height="82.4" fill="#080808"/>
<rect x="52.5" y="407.15" width="330.1" height="2.7" fill="#b9b9b9"/>
<rect x="51.1" y="325.05" width="2.8" height="167.55" fill="#1c1c1c"/>
<rect x="44.9" y="489.8" width="337.7" height="2.8" fill="#1c1c1c"/>
<rect x="44.9" y="325.1" width="7.6" height="2.6" fill="#1c1c1c"/>
<text x="40.5" y="329.9" font-size="8.9" text-anchor="end" fill="#2a2a2a" stroke="#2a2a2a" stroke-width="0.13">12</text>
<rect x="44.9" y="352.45" width="7.6" height="2.6" fill="#1c1c1c"/>
<text x="40.5" y="357.25" font-size="8.9" text-anchor="end" fill="#2a2a2a" stroke="#2a2a2a" stroke-width="0.13">8</text>
<rect x="44.9" y="380.1" width="7.6" height="2.6" fill="#1c1c1c"/>
<text x="40.5" y="384.9" font-size="8.9" text-anchor="end" fill="#2a2a2a" stroke="#2a2a2a" stroke-width="0.13">4</text>
<rect x="44.9" y="407.3" width="7.6" height="2.6" fill="#1c1c1c"/>
<text x="40.5" y="412.1" font-size="8.9" text-anchor="end" fill="#2a2a2a" stroke="#2a2a2a" stroke-width="0.13">0</text>
<rect x="44.9" y="435.1" width="7.6" height="2.6" fill="#1c1c1c"/>
<text x="40.5" y="439.9" font-size="8.9" text-anchor="end" fill="#2a2a2a" stroke="#2a2a2a" stroke-width="0.13">-4</text>
<rect x="44.9" y="462.6" width="7.6" height="2.6" fill="#1c1c1c"/>
<text x="40.5" y="467.4" font-size="8.9" text-anchor="end" fill="#2a2a2a" stroke="#2a2a2a" stroke-width="0.13">-8</text>
<text x="40.5" y="494.7" font-size="8.9" text-anchor="end" fill="#2a2a2a" stroke="#2a2a2a" stroke-width="0.13">-12</text>
<rect x="59.2" y="491.2" width="3" height="7.1" fill="#1c1c1c"/>
<text x="63.1" y="509.9" font-size="8.8" text-anchor="end" fill="#2a2a2a" stroke="#2a2a2a" stroke-width="0.13" transform="rotate(-45 63.1 509.9)">82</text>
<rect x="67.35" y="491.2" width="2.8" height="3.5" fill="#1c1c1c"/>
<rect x="75.3" y="491.2" width="3" height="7.1" fill="#1c1c1c"/>
<text x="79.2" y="509.9" font-size="8.8" text-anchor="end" fill="#2a2a2a" stroke="#2a2a2a" stroke-width="0.13" transform="rotate(-45 79.2 509.9)">84</text>
<rect x="83.45" y="491.2" width="2.8" height="3.5" fill="#1c1c1c"/>
<rect x="91.4" y="491.2" width="3" height="7.1" fill="#1c1c1c"/>
<text x="95.3" y="509.9" font-size="8.8" text-anchor="end" fill="#2a2a2a" stroke="#2a2a2a" stroke-width="0.13" transform="rotate(-45 95.3 509.9)">86</text>
<rect x="99.55" y="491.2" width="2.8" height="3.5" fill="#1c1c1c"/>
<rect x="107.5" y="491.2" width="3" height="7.1" fill="#1c1c1c"/>
<text x="111.4" y="509.9" font-size="8.8" text-anchor="end" fill="#2a2a2a" stroke="#2a2a2a" stroke-width="0.13" transform="rotate(-45 111.4 509.9)">88</text>
<rect x="115.65" y="491.2" width="2.8" height="3.5" fill="#1c1c1c"/>
<rect x="123.6" y="491.2" width="3" height="7.1" fill="#1c1c1c"/>
<text x="127.5" y="509.9" font-size="8.8" text-anchor="end" fill="#2a2a2a" stroke="#2a2a2a" stroke-width="0.13" transform="rotate(-45 127.5 509.9)">90</text>
<rect x="131.75" y="491.2" width="2.8" height="3.5" fill="#1c1c1c"/>
<rect x="139.7" y="491.2" width="3" height="7.1" fill="#1c1c1c"/>
<text x="143.6" y="509.9" font-size="8.8" text-anchor="end" fill="#2a2a2a" stroke="#2a2a2a" stroke-width="0.13" transform="rotate(-45 143.6 509.9)">92</text>
<rect x="147.85" y="491.2" width="2.8" height="3.5" fill="#1c1c1c"/>
<rect x="155.8" y="491.2" width="3" height="7.1" fill="#1c1c1c"/>
<text x="159.7" y="509.9" font-size="8.8" text-anchor="end" fill="#2a2a2a" stroke="#2a2a2a" stroke-width="0.13" transform="rotate(-45 159.7 509.9)">94</text>
<rect x="163.95" y="491.2" width="2.8" height="3.5" fill="#1c1c1c"/>
<rect x="171.9" y="491.2" width="3" height="7.1" fill="#1c1c1c"/>
<text x="175.8" y="509.9" font-size="8.8" text-anchor="end" fill="#2a2a2a" stroke="#2a2a2a" stroke-width="0.13" transform="rotate(-45 175.8 509.9)">96</text>
<rect x="180.05" y="491.2" width="2.8" height="3.5" fill="#1c1c1c"/>
<rect x="188" y="491.2" width="3" height="7.1" fill="#1c1c1c"/>
<text x="191.9" y="509.9" font-size="8.8" text-anchor="end" fill="#2a2a2a" stroke="#2a2a2a" stroke-width="0.13" transform="rotate(-45 191.9 509.9)">98</text>
<rect x="196.15" y="491.2" width="2.8" height="3.5" fill="#1c1c1c"/>
<rect x="204.1" y="491.2" width="3" height="7.1" fill="#1c1c1c"/>
<text x="208" y="506.44" font-size="8.8" text-anchor="end" fill="#2a2a2a" stroke="#2a2a2a" stroke-width="0.13" transform="rotate(-45 208 506.44)">100</text>
<rect x="212.25" y="491.2" width="2.8" height="3.5" fill="#1c1c1c"/>
<rect x="220.2" y="491.2" width="3" height="7.1" fill="#1c1c1c"/>
<text x="224.1" y="506.44" font-size="8.8" text-anchor="end" fill="#2a2a2a" stroke="#2a2a2a" stroke-width="0.13" transform="rotate(-45 224.1 506.44)">102</text>
<rect x="228.35" y="491.2" width="2.8" height="3.5" fill="#1c1c1c"/>
<rect x="236.3" y="491.2" width="3" height="7.1" fill="#1c1c1c"/>
<text x="240.2" y="506.44" font-size="8.8" text-anchor="end" fill="#2a2a2a" stroke="#2a2a2a" stroke-width="0.13" transform="rotate(-45 240.2 506.44)">104</text>
<rect x="244.45" y="491.2" width="2.8" height="3.5" fill="#1c1c1c"/>
<rect x="252.4" y="491.2" width="3" height="7.1" fill="#1c1c1c"/>
<text x="256.3" y="506.44" font-size="8.8" text-anchor="end" fill="#2a2a2a" stroke="#2a2a2a" stroke-width="0.13" transform="rotate(-45 256.3 506.44)">106</text>
<rect x="260.55" y="491.2" width="2.8" height="3.5" fill="#1c1c1c"/>
<rect x="268.5" y="491.2" width="3" height="7.1" fill="#1c1c1c"/>
<text x="272.4" y="506.44" font-size="8.8" text-anchor="end" fill="#2a2a2a" stroke="#2a2a2a" stroke-width="0.13" transform="rotate(-45 272.4 506.44)">108</text>
<rect x="276.65" y="491.2" width="2.8" height="3.5" fill="#1c1c1c"/>
<rect x="284.6" y="491.2" width="3" height="7.1" fill="#1c1c1c"/>
<text x="288.5" y="506.44" font-size="8.8" text-anchor="end" fill="#2a2a2a" stroke="#2a2a2a" stroke-width="0.13" transform="rotate(-45 288.5 506.44)">110</text>
<rect x="292.75" y="491.2" width="2.8" height="3.5" fill="#1c1c1c"/>
<rect x="300.7" y="491.2" width="3" height="7.1" fill="#1c1c1c"/>
<text x="304.6" y="506.44" font-size="8.8" text-anchor="end" fill="#2a2a2a" stroke="#2a2a2a" stroke-width="0.13" transform="rotate(-45 304.6 506.44)">112</text>
<rect x="308.85" y="491.2" width="2.8" height="3.5" fill="#1c1c1c"/>
<rect x="316.8" y="491.2" width="3" height="7.1" fill="#1c1c1c"/>
<text x="320.7" y="506.44" font-size="8.8" text-anchor="end" fill="#2a2a2a" stroke="#2a2a2a" stroke-width="0.13" transform="rotate(-45 320.7 506.44)">114</text>
<rect x="324.95" y="491.2" width="2.8" height="3.5" fill="#1c1c1c"/>
<rect x="332.9" y="491.2" width="3" height="7.1" fill="#1c1c1c"/>
<text x="336.8" y="506.44" font-size="8.8" text-anchor="end" fill="#2a2a2a" stroke="#2a2a2a" stroke-width="0.13" transform="rotate(-45 336.8 506.44)">116</text>
<rect x="341.05" y="491.2" width="2.8" height="3.5" fill="#1c1c1c"/>
<rect x="349" y="491.2" width="3" height="7.1" fill="#1c1c1c"/>
<text x="352.9" y="506.44" font-size="8.8" text-anchor="end" fill="#2a2a2a" stroke="#2a2a2a" stroke-width="0.13" transform="rotate(-45 352.9 506.44)">119</text>
<rect x="357.15" y="491.2" width="2.8" height="3.5" fill="#1c1c1c"/>
<rect x="365.1" y="491.2" width="3" height="7.1" fill="#1c1c1c"/>
<text x="369" y="506.44" font-size="8.8" text-anchor="end" fill="#2a2a2a" stroke="#2a2a2a" stroke-width="0.13" transform="rotate(-45 369 506.44)">121</text>
<rect x="373.25" y="491.2" width="2.8" height="3.5" fill="#1c1c1c"/>
<text x="214.9" y="531.4" font-size="14.3" text-anchor="middle" fill="#2a2a2a" stroke="#2a2a2a" stroke-width="0.21">Age (days)</text>
<text x="4" y="321.5" font-size="14.8" text-anchor="start" fill="#1a1a1a" stroke="#1a1a1a" stroke-width="0.22">C</text>
<text x="17.3" y="487.4" transform="rotate(-90 17.3 487.4)" fill="#2a2a2a" stroke="#2a2a2a" stroke-width="0.2" font-size="17">N<tspan font-size="12.85"> (+/- Frequency Baseline)</tspan></text>
<text x="382.7" y="319.8" font-size="12.6" text-anchor="end" fill="#1a1a1a" stroke="#1a1a1a" stroke-width="0.19">CONTROL</text>
<rect x="470.4" y="326.06" width="3" height="82.44" fill="#080808"/>
<rect x="478.41" y="326.06" width="3" height="82.44" fill="#080808"/>
<rect x="486.43" y="326.06" width="3" height="82.44" fill="#080808"/>
<rect x="494.44" y="326.06" width="3" height="82.44" fill="#080808"/>
<rect x="502.46" y="326.06" width="3" height="82.44" fill="#080808"/>
<rect x="510.47" y="326.06" width="3" height="82.44" fill="#080808"/>
<rect x="518.49" y="332.93" width="3" height="82.42" fill="#080808"/>
<rect x="526.5" y="326.06" width="3" height="82.44" fill="#080808"/>
<rect x="534.52" y="326.06" width="3" height="82.44" fill="#080808"/>
<rect x="542.53" y="326.06" width="3" height="82.44" fill="#080808"/>
<rect x="550.55" y="326.06" width="3" height="82.44" fill="#080808"/>
<rect x="558.56" y="326.06" width="3" height="82.44" fill="#080808"/>
<rect x="566.58" y="326.06" width="3" height="82.44" fill="#080808"/>
<rect x="574.6" y="326.06" width="3" height="82.44" fill="#080808"/>
<rect x="582.61" y="326.06" width="3" height="82.44" fill="#080808"/>
<rect x="590.62" y="326.06" width="3" height="82.44" fill="#080808"/>
<rect x="598.64" y="326.06" width="3" height="82.44" fill="#080808"/>
<rect x="606.65" y="326.06" width="3" height="82.44" fill="#080808"/>
<rect x="614.67" y="326.06" width="3" height="82.44" fill="#080808"/>
<rect x="622.68" y="326.06" width="3" height="82.44" fill="#080808"/>
<rect x="630.7" y="326.06" width="3" height="82.44" fill="#080808"/>
<rect x="638.71" y="326.06" width="3" height="82.44" fill="#080808"/>
<rect x="646.73" y="326.06" width="3" height="82.44" fill="#080808"/>
<rect x="654.75" y="326.06" width="3" height="82.44" fill="#080808"/>
<rect x="662.76" y="326.06" width="3" height="82.44" fill="#080808"/>
<rect x="670.77" y="332.93" width="3" height="82.42" fill="#080808"/>
<rect x="678.79" y="326.06" width="3" height="82.44" fill="#080808"/>
<rect x="686.81" y="326.06" width="3" height="82.44" fill="#080808"/>
<rect x="694.82" y="326.06" width="3" height="82.44" fill="#080808"/>
<rect x="702.84" y="326.06" width="3" height="82.44" fill="#080808"/>
<rect x="710.85" y="326.06" width="3" height="82.44" fill="#080808"/>
<rect x="718.87" y="326.06" width="3" height="82.44" fill="#080808"/>
<rect x="726.88" y="326.06" width="3" height="82.44" fill="#080808"/>
<rect x="734.89" y="326.06" width="3" height="82.44" fill="#080808"/>
<rect x="742.91" y="326.06" width="3" height="82.44" fill="#080808"/>
<rect x="750.92" y="326.06" width="3" height="82.44" fill="#080808"/>
<rect x="758.94" y="332.93" width="3" height="82.42" fill="#080808"/>
<rect x="766.95" y="326.06" width="3" height="82.44" fill="#080808"/>
<rect x="774.97" y="326.06" width="3" height="82.44" fill="#080808"/>
<rect x="782.99" y="326.06" width="3" height="82.44" fill="#080808"/>
<rect x="463.8" y="407.15" width="330.7" height="2.7" fill="#b9b9b9"/>
<rect x="462.4" y="325.05" width="2.8" height="167.55" fill="#1c1c1c"/>
<rect x="456.2" y="489.8" width="338.3" height="2.8" fill="#1c1c1c"/>
<rect x="456.2" y="325.1" width="7.6" height="2.6" fill="#1c1c1c"/>
<text x="451.9" y="329.8" font-size="9.3" text-anchor="end" fill="#2a2a2a" stroke="#2a2a2a" stroke-width="0.14">12</text>
<rect x="456.2" y="352.45" width="7.6" height="2.6" fill="#1c1c1c"/>
<text x="451.9" y="357.15" font-size="9.3" text-anchor="end" fill="#2a2a2a" stroke="#2a2a2a" stroke-width="0.14">8</text>
<rect x="456.2" y="380.1" width="7.6" height="2.6" fill="#1c1c1c"/>
<text x="451.9" y="384.8" font-size="9.3" text-anchor="end" fill="#2a2a2a" stroke="#2a2a2a" stroke-width="0.14">4</text>
<rect x="456.2" y="407.3" width="7.6" height="2.6" fill="#1c1c1c"/>
<text x="451.9" y="412" font-size="9.3" text-anchor="end" fill="#2a2a2a" stroke="#2a2a2a" stroke-width="0.14">0</text>
<rect x="456.2" y="435.1" width="7.6" height="2.6" fill="#1c1c1c"/>
<text x="451.9" y="439.8" font-size="9.3" text-anchor="end" fill="#2a2a2a" stroke="#2a2a2a" stroke-width="0.14">-4</text>
<rect x="456.2" y="462.6" width="7.6" height="2.6" fill="#1c1c1c"/>
<text x="451.9" y="467.3" font-size="9.3" text-anchor="end" fill="#2a2a2a" stroke="#2a2a2a" stroke-width="0.14">-8</text>
<text x="451.9" y="494.6" font-size="9.3" text-anchor="end" fill="#2a2a2a" stroke="#2a2a2a" stroke-width="0.14">-12</text>
<rect x="470.4" y="491.2" width="3" height="7.2" fill="#1c1c1c"/>
<text x="473.8" y="509.9" font-size="8.9" text-anchor="end" fill="#2a2a2a" stroke="#2a2a2a" stroke-width="0.13" transform="rotate(-45 473.8 509.9)">82</text>
<rect x="478.55" y="491.2" width="2.8" height="3.5" fill="#1c1c1c"/>
<rect x="486.49" y="491.2" width="3" height="7.2" fill="#1c1c1c"/>
<text x="489.89" y="509.9" font-size="8.9" text-anchor="end" fill="#2a2a2a" stroke="#2a2a2a" stroke-width="0.13" transform="rotate(-45 489.89 509.9)">84</text>
<rect x="494.63" y="491.2" width="2.8" height="3.5" fill="#1c1c1c"/>
<rect x="502.58" y="491.2" width="3" height="7.2" fill="#1c1c1c"/>
<text x="505.98" y="509.9" font-size="8.9" text-anchor="end" fill="#2a2a2a" stroke="#2a2a2a" stroke-width="0.13" transform="rotate(-45 505.98 509.9)">86</text>
<rect x="510.73" y="491.2" width="2.8" height="3.5" fill="#1c1c1c"/>
<rect x="518.67" y="491.2" width="3" height="7.2" fill="#1c1c1c"/>
<text x="522.07" y="509.9" font-size="8.9" text-anchor="end" fill="#2a2a2a" stroke="#2a2a2a" stroke-width="0.13" transform="rotate(-45 522.07 509.9)">88</text>
<rect x="526.81" y="491.2" width="2.8" height="3.5" fill="#1c1c1c"/>
<rect x="534.76" y="491.2" width="3" height="7.2" fill="#1c1c1c"/>
<text x="538.16" y="509.9" font-size="8.9" text-anchor="end" fill="#2a2a2a" stroke="#2a2a2a" stroke-width="0.13" transform="rotate(-45 538.16 509.9)">90</text>
<rect x="542.9" y="491.2" width="2.8" height="3.5" fill="#1c1c1c"/>
<rect x="550.85" y="491.2" width="3" height="7.2" fill="#1c1c1c"/>
<text x="554.25" y="509.9" font-size="8.9" text-anchor="end" fill="#2a2a2a" stroke="#2a2a2a" stroke-width="0.13" transform="rotate(-45 554.25 509.9)">92</text>
<rect x="559" y="491.2" width="2.8" height="3.5" fill="#1c1c1c"/>
<rect x="566.94" y="491.2" width="3" height="7.2" fill="#1c1c1c"/>
<text x="570.34" y="509.9" font-size="8.9" text-anchor="end" fill="#2a2a2a" stroke="#2a2a2a" stroke-width="0.13" transform="rotate(-45 570.34 509.9)">94</text>
<rect x="575.09" y="491.2" width="2.8" height="3.5" fill="#1c1c1c"/>
<rect x="583.03" y="491.2" width="3" height="7.2" fill="#1c1c1c"/>
<text x="586.43" y="509.9" font-size="8.9" text-anchor="end" fill="#2a2a2a" stroke="#2a2a2a" stroke-width="0.13" transform="rotate(-45 586.43 509.9)">96</text>
<rect x="591.17" y="491.2" width="2.8" height="3.5" fill="#1c1c1c"/>
<rect x="599.12" y="491.2" width="3" height="7.2" fill="#1c1c1c"/>
<text x="602.52" y="509.9" font-size="8.9" text-anchor="end" fill="#2a2a2a" stroke="#2a2a2a" stroke-width="0.13" transform="rotate(-45 602.52 509.9)">98</text>
<rect x="607.26" y="491.2" width="2.8" height="3.5" fill="#1c1c1c"/>
<rect x="615.21" y="491.2" width="3" height="7.2" fill="#1c1c1c"/>
<text x="618.61" y="506.4" font-size="8.9" text-anchor="end" fill="#2a2a2a" stroke="#2a2a2a" stroke-width="0.13" transform="rotate(-45 618.61 506.4)">100</text>
<rect x="623.36" y="491.2" width="2.8" height="3.5" fill="#1c1c1c"/>
<rect x="631.3" y="491.2" width="3" height="7.2" fill="#1c1c1c"/>
<text x="634.7" y="506.4" font-size="8.9" text-anchor="end" fill="#2a2a2a" stroke="#2a2a2a" stroke-width="0.13" transform="rotate(-45 634.7 506.4)">102</text>
<rect x="639.45" y="491.2" width="2.8" height="3.5" fill="#1c1c1c"/>
<rect x="647.39" y="491.2" width="3" height="7.2" fill="#1c1c1c"/>
<text x="650.79" y="506.4" font-size="8.9" text-anchor="end" fill="#2a2a2a" stroke="#2a2a2a" stroke-width="0.13" transform="rotate(-45 650.79 506.4)">104</text>
<rect x="655.53" y="491.2" width="2.8" height="3.5" fill="#1c1c1c"/>
<rect x="663.48" y="491.2" width="3" height="7.2" fill="#1c1c1c"/>
<text x="666.88" y="506.4" font-size="8.9" text-anchor="end" fill="#2a2a2a" stroke="#2a2a2a" stroke-width="0.13" transform="rotate(-45 666.88 506.4)">106</text>
<rect x="671.62" y="491.2" width="2.8" height="3.5" fill="#1c1c1c"/>
<rect x="679.57" y="491.2" width="3" height="7.2" fill="#1c1c1c"/>
<text x="682.97" y="506.4" font-size="8.9" text-anchor="end" fill="#2a2a2a" stroke="#2a2a2a" stroke-width="0.13" transform="rotate(-45 682.97 506.4)">108</text>
<rect x="687.72" y="491.2" width="2.8" height="3.5" fill="#1c1c1c"/>
<rect x="695.66" y="491.2" width="3" height="7.2" fill="#1c1c1c"/>
<text x="699.06" y="506.4" font-size="8.9" text-anchor="end" fill="#2a2a2a" stroke="#2a2a2a" stroke-width="0.13" transform="rotate(-45 699.06 506.4)">110</text>
<rect x="703.8" y="491.2" width="2.8" height="3.5" fill="#1c1c1c"/>
<rect x="711.75" y="491.2" width="3" height="7.2" fill="#1c1c1c"/>
<text x="715.15" y="506.4" font-size="8.9" text-anchor="end" fill="#2a2a2a" stroke="#2a2a2a" stroke-width="0.13" transform="rotate(-45 715.15 506.4)">112</text>
<rect x="719.89" y="491.2" width="2.8" height="3.5" fill="#1c1c1c"/>
<rect x="727.84" y="491.2" width="3" height="7.2" fill="#1c1c1c"/>
<text x="731.24" y="506.4" font-size="8.9" text-anchor="end" fill="#2a2a2a" stroke="#2a2a2a" stroke-width="0.13" transform="rotate(-45 731.24 506.4)">114</text>
<rect x="735.99" y="491.2" width="2.8" height="3.5" fill="#1c1c1c"/>
<rect x="743.93" y="491.2" width="3" height="7.2" fill="#1c1c1c"/>
<text x="747.33" y="506.4" font-size="8.9" text-anchor="end" fill="#2a2a2a" stroke="#2a2a2a" stroke-width="0.13" transform="rotate(-45 747.33 506.4)">116</text>
<rect x="752.07" y="491.2" width="2.8" height="3.5" fill="#1c1c1c"/>
<rect x="760.02" y="491.2" width="3" height="7.2" fill="#1c1c1c"/>
<text x="763.42" y="506.4" font-size="8.9" text-anchor="end" fill="#2a2a2a" stroke="#2a2a2a" stroke-width="0.13" transform="rotate(-45 763.42 506.4)">119</text>
<rect x="768.17" y="491.2" width="2.8" height="3.5" fill="#1c1c1c"/>
<rect x="776.11" y="491.2" width="3" height="7.2" fill="#1c1c1c"/>
<text x="779.51" y="506.4" font-size="8.9" text-anchor="end" fill="#2a2a2a" stroke="#2a2a2a" stroke-width="0.13" transform="rotate(-45 779.51 506.4)">121</text>
<rect x="784.25" y="491.2" width="2.8" height="3.5" fill="#1c1c1c"/>
<text x="626.2" y="531.4" font-size="14.3" text-anchor="middle" fill="#2a2a2a" stroke="#2a2a2a" stroke-width="0.21">Age (days)</text>
<text x="415" y="322.3" font-size="14.8" text-anchor="start" fill="#1a1a1a" stroke="#1a1a1a" stroke-width="0.22">D</text>
<text x="429.2" y="473.4" transform="rotate(-90 429.2 473.4)" fill="#2a2a2a" stroke="#2a2a2a" stroke-width="0.2" font-size="17">N<tspan font-size="12.85"> (+/- Force Baseline)</tspan></text>
<text x="794.3" y="319.8" font-size="12.6" text-anchor="end" fill="#1a1a1a" stroke="#1a1a1a" stroke-width="0.19">CONTROL</text>
<rect x="56.8" y="571.66" width="3" height="84.84" fill="#080808"/>
<rect x="62.4" y="585.8" width="3" height="84.4" fill="#080808"/>
<rect x="68" y="571.66" width="3" height="84.84" fill="#080808"/>
<rect x="73.6" y="578.73" width="3" height="84.62" fill="#080808"/>
<rect x="79.2" y="578.73" width="3" height="84.62" fill="#080808"/>
<rect x="84.8" y="571.66" width="3" height="84.84" fill="#080808"/>
<rect x="90.4" y="578.73" width="3" height="84.62" fill="#080808"/>
<rect x="96" y="571.66" width="3" height="84.84" fill="#080808"/>
<rect x="101.6" y="578.73" width="3" height="84.62" fill="#080808"/>
<rect x="107.2" y="578.73" width="3" height="84.62" fill="#080808"/>
<rect x="112.8" y="592.87" width="3" height="84.18" fill="#080808"/>
<rect x="118.4" y="585.8" width="3" height="84.4" fill="#080808"/>
<rect x="124" y="585.8" width="3" height="84.4" fill="#080808"/>
<rect x="129.6" y="578.73" width="3" height="84.62" fill="#080808"/>
<rect x="135.2" y="571.66" width="3" height="84.84" fill="#080808"/>
<rect x="140.8" y="585.8" width="3" height="84.4" fill="#080808"/>
<rect x="146.4" y="571.66" width="3" height="84.84" fill="#080808"/>
<rect x="152" y="571.66" width="3" height="84.84" fill="#080808"/>
<rect x="157.6" y="578.73" width="3" height="84.62" fill="#080808"/>
<rect x="163.2" y="571.66" width="3" height="84.84" fill="#080808"/>
<rect x="168.8" y="571.66" width="3" height="84.84" fill="#080808"/>
<rect x="174.4" y="571.66" width="3" height="84.84" fill="#080808"/>
<rect x="180" y="571.66" width="3" height="84.84" fill="#080808"/>
<rect x="185.6" y="571.66" width="3" height="84.84" fill="#080808"/>
<rect x="191.2" y="578.73" width="3" height="84.62" fill="#080808"/>
<rect x="196.8" y="585.8" width="3" height="84.4" fill="#080808"/>
<rect x="202.4" y="571.66" width="3" height="84.84" fill="#080808"/>
<rect x="208" y="571.66" width="3" height="84.84" fill="#080808"/>
<rect x="213.6" y="571.66" width="3" height="84.84" fill="#080808"/>
<rect x="219.2" y="571.66" width="3" height="84.84" fill="#080808"/>
<rect x="224.8" y="585.8" width="3" height="84.4" fill="#080808"/>
<rect x="230.4" y="578.73" width="3" height="84.62" fill="#080808"/>
<rect x="236" y="599.94" width="3" height="83.96" fill="#080808"/>
<rect x="241.6" y="578.73" width="3" height="84.62" fill="#080808"/>
<rect x="247.2" y="578.73" width="3" height="84.62" fill="#080808"/>
<rect x="252.8" y="599.94" width="3" height="83.96" fill="#080808"/>
<rect x="258.4" y="599.94" width="3" height="83.96" fill="#080808"/>
<rect x="264" y="614.08" width="3" height="83.52" fill="#080808"/>
<rect x="269.6" y="592.87" width="3" height="84.18" fill="#080808"/>
<rect x="275.2" y="599.94" width="3" height="83.96" fill="#080808"/>
<rect x="280.8" y="599.94" width="3" height="83.96" fill="#080808"/>
<rect x="286.4" y="614.08" width="3" height="83.52" fill="#080808"/>
<rect x="292" y="599.94" width="3" height="83.96" fill="#080808"/>
<rect x="297.6" y="592.87" width="3" height="84.18" fill="#080808"/>
<rect x="303.2" y="621.15" width="3" height="83.3" fill="#080808"/>
<rect x="308.8" y="628.22" width="3" height="83.08" fill="#080808"/>
<rect x="314.4" y="621.15" width="3" height="83.3" fill="#080808"/>
<rect x="320" y="635.29" width="3" height="82.86" fill="#080808"/>
<rect x="325.6" y="628.22" width="3" height="83.08" fill="#080808"/>
<rect x="331.2" y="621.15" width="3" height="83.3" fill="#080808"/>
<rect x="336.8" y="614.08" width="3" height="83.52" fill="#080808"/>
<rect x="342.4" y="635.29" width="3" height="82.86" fill="#080808"/>
<rect x="348" y="628.22" width="3" height="83.08" fill="#080808"/>
<rect x="353.6" y="635.29" width="3" height="82.86" fill="#080808"/>
<rect x="359.2" y="635.29" width="3" height="82.86" fill="#080808"/>
<rect x="364.8" y="642.36" width="3" height="82.64" fill="#080808"/>
<rect x="370.4" y="642.36" width="3" height="82.64" fill="#080808"/>
<rect x="376" y="635.29" width="3" height="82.86" fill="#080808"/>
<rect x="52.5" y="655.15" width="330.1" height="2.7" fill="#b9b9b9"/>
<rect x="51.1" y="570.4" width="2.8" height="169.9" fill="#1c1c1c"/>
<rect x="44.9" y="737.5" width="337.7" height="2.8" fill="#1c1c1c"/>
<rect x="44.9" y="570.45" width="7.6" height="2.6" fill="#1c1c1c"/>
<text x="40.5" y="575.25" font-size="8.9" text-anchor="end" fill="#2a2a2a" stroke="#2a2a2a" stroke-width="0.13">12</text>
<rect x="44.9" y="600.1" width="7.6" height="2.6" fill="#1c1c1c"/>
<text x="40.5" y="604.9" font-size="8.9" text-anchor="end" fill="#2a2a2a" stroke="#2a2a2a" stroke-width="0.13">8</text>
<rect x="44.9" y="627.6" width="7.6" height="2.6" fill="#1c1c1c"/>
<text x="40.5" y="632.4" font-size="8.9" text-anchor="end" fill="#2a2a2a" stroke="#2a2a2a" stroke-width="0.13">4</text>
<rect x="44.9" y="655.2" width="7.6" height="2.6" fill="#1c1c1c"/>
<text x="40.5" y="660" font-size="8.9" text-anchor="end" fill="#2a2a2a" stroke="#2a2a2a" stroke-width="0.13">0</text>
<rect x="44.9" y="682.8" width="7.6" height="2.6" fill="#1c1c1c"/>
<text x="40.5" y="687.6" font-size="8.9" text-anchor="end" fill="#2a2a2a" stroke="#2a2a2a" stroke-width="0.13">-4</text>
<rect x="44.9" y="710.3" width="7.6" height="2.6" fill="#1c1c1c"/>
<text x="40.5" y="715.1" font-size="8.9" text-anchor="end" fill="#2a2a2a" stroke="#2a2a2a" stroke-width="0.13">-8</text>
<text x="40.5" y="742.4" font-size="8.9" text-anchor="end" fill="#2a2a2a" stroke="#2a2a2a" stroke-width="0.13">-12</text>
<rect x="56.8" y="738.9" width="3" height="7.6" fill="#1c1c1c"/>
<text x="60" y="758.3" font-size="8.8" text-anchor="end" fill="#2a2a2a" stroke="#2a2a2a" stroke-width="0.13" transform="rotate(-45 60 758.3)">64</text>
<rect x="62.5" y="738.9" width="2.8" height="3.6" fill="#1c1c1c"/>
<rect x="68" y="738.9" width="3" height="7.6" fill="#1c1c1c"/>
<rect x="73.7" y="738.9" width="2.8" height="3.6" fill="#1c1c1c"/>
<rect x="79.2" y="738.9" width="3" height="7.6" fill="#1c1c1c"/>
<text x="82.4" y="758.3" font-size="8.8" text-anchor="end" fill="#2a2a2a" stroke="#2a2a2a" stroke-width="0.13" transform="rotate(-45 82.4 758.3)">68</text>
<rect x="84.9" y="738.9" width="2.8" height="3.6" fill="#1c1c1c"/>
<rect x="90.4" y="738.9" width="3" height="7.6" fill="#1c1c1c"/>
<rect x="96.1" y="738.9" width="2.8" height="3.6" fill="#1c1c1c"/>
<rect x="101.6" y="738.9" width="3" height="7.6" fill="#1c1c1c"/>
<text x="104.8" y="758.3" font-size="8.8" text-anchor="end" fill="#2a2a2a" stroke="#2a2a2a" stroke-width="0.13" transform="rotate(-45 104.8 758.3)">72</text>
<rect x="107.3" y="738.9" width="2.8" height="3.6" fill="#1c1c1c"/>
<rect x="112.8" y="738.9" width="3" height="7.6" fill="#1c1c1c"/>
<rect x="118.5" y="738.9" width="2.8" height="3.6" fill="#1c1c1c"/>
<rect x="124" y="738.9" width="3" height="7.6" fill="#1c1c1c"/>
<text x="127.2" y="758.3" font-size="8.8" text-anchor="end" fill="#2a2a2a" stroke="#2a2a2a" stroke-width="0.13" transform="rotate(-45 127.2 758.3)">76</text>
<rect x="129.7" y="738.9" width="2.8" height="3.6" fill="#1c1c1c"/>
<rect x="135.2" y="738.9" width="3" height="7.6" fill="#1c1c1c"/>
<rect x="140.9" y="738.9" width="2.8" height="3.6" fill="#1c1c1c"/>
<rect x="146.4" y="738.9" width="3" height="7.6" fill="#1c1c1c"/>
<text x="149.6" y="758.3" font-size="8.8" text-anchor="end" fill="#2a2a2a" stroke="#2a2a2a" stroke-width="0.13" transform="rotate(-45 149.6 758.3)">80</text>
<rect x="152.1" y="738.9" width="2.8" height="3.6" fill="#1c1c1c"/>
<rect x="157.6" y="738.9" width="3" height="7.6" fill="#1c1c1c"/>
<rect x="163.3" y="738.9" width="2.8" height="3.6" fill="#1c1c1c"/>
<rect x="168.8" y="738.9" width="3" height="7.6" fill="#1c1c1c"/>
<text x="172" y="758.3" font-size="8.8" text-anchor="end" fill="#2a2a2a" stroke="#2a2a2a" stroke-width="0.13" transform="rotate(-45 172 758.3)">84</text>
<rect x="174.5" y="738.9" width="2.8" height="3.6" fill="#1c1c1c"/>
<rect x="180" y="738.9" width="3" height="7.6" fill="#1c1c1c"/>
<rect x="185.7" y="738.9" width="2.8" height="3.6" fill="#1c1c1c"/>
<rect x="191.2" y="738.9" width="3" height="7.6" fill="#1c1c1c"/>
<text x="194.4" y="758.3" font-size="8.8" text-anchor="end" fill="#2a2a2a" stroke="#2a2a2a" stroke-width="0.13" transform="rotate(-45 194.4 758.3)">88</text>
<rect x="196.9" y="738.9" width="2.8" height="3.6" fill="#1c1c1c"/>
<rect x="202.4" y="738.9" width="3" height="7.6" fill="#1c1c1c"/>
<rect x="208.1" y="738.9" width="2.8" height="3.6" fill="#1c1c1c"/>
<rect x="213.6" y="738.9" width="3" height="7.6" fill="#1c1c1c"/>
<text x="216.8" y="758.3" font-size="8.8" text-anchor="end" fill="#2a2a2a" stroke="#2a2a2a" stroke-width="0.13" transform="rotate(-45 216.8 758.3)">92</text>
<rect x="219.3" y="738.9" width="2.8" height="3.6" fill="#1c1c1c"/>
<rect x="224.8" y="738.9" width="3" height="7.6" fill="#1c1c1c"/>
<rect x="230.5" y="738.9" width="2.8" height="3.6" fill="#1c1c1c"/>
<rect x="236" y="738.9" width="3" height="7.6" fill="#1c1c1c"/>
<text x="239.2" y="758.3" font-size="8.8" text-anchor="end" fill="#2a2a2a" stroke="#2a2a2a" stroke-width="0.13" transform="rotate(-45 239.2 758.3)">96</text>
<rect x="241.7" y="738.9" width="2.8" height="3.6" fill="#1c1c1c"/>
<rect x="247.2" y="738.9" width="3" height="7.6" fill="#1c1c1c"/>
<rect x="252.9" y="738.9" width="2.8" height="3.6" fill="#1c1c1c"/>
<rect x="258.4" y="738.9" width="3" height="7.6" fill="#1c1c1c"/>
<text x="261.6" y="754.84" font-size="8.8" text-anchor="end" fill="#2a2a2a" stroke="#2a2a2a" stroke-width="0.13" transform="rotate(-45 261.6 754.84)">100</text>
<rect x="264.1" y="738.9" width="2.8" height="3.6" fill="#1c1c1c"/>
<rect x="269.6" y="738.9" width="3" height="7.6" fill="#1c1c1c"/>
<rect x="275.3" y="738.9" width="2.8" height="3.6" fill="#1c1c1c"/>
<rect x="280.8" y="738.9" width="3" height="7.6" fill="#1c1c1c"/>
<text x="284" y="754.84" font-size="8.8" text-anchor="end" fill="#2a2a2a" stroke="#2a2a2a" stroke-width="0.13" transform="rotate(-45 284 754.84)">104</text>
<rect x="286.5" y="738.9" width="2.8" height="3.6" fill="#1c1c1c"/>
<rect x="292" y="738.9" width="3" height="7.6" fill="#1c1c1c"/>
<rect x="297.7" y="738.9" width="2.8" height="3.6" fill="#1c1c1c"/>
<rect x="303.2" y="738.9" width="3" height="7.6" fill="#1c1c1c"/>
<text x="306.4" y="754.84" font-size="8.8" text-anchor="end" fill="#2a2a2a" stroke="#2a2a2a" stroke-width="0.13" transform="rotate(-45 306.4 754.84)">108</text>
<rect x="308.9" y="738.9" width="2.8" height="3.6" fill="#1c1c1c"/>
<rect x="314.4" y="738.9" width="3" height="7.6" fill="#1c1c1c"/>
<rect x="320.1" y="738.9" width="2.8" height="3.6" fill="#1c1c1c"/>
<rect x="325.6" y="738.9" width="3" height="7.6" fill="#1c1c1c"/>
<text x="328.8" y="754.84" font-size="8.8" text-anchor="end" fill="#2a2a2a" stroke="#2a2a2a" stroke-width="0.13" transform="rotate(-45 328.8 754.84)">112</text>
<rect x="331.3" y="738.9" width="2.8" height="3.6" fill="#1c1c1c"/>
<rect x="336.8" y="738.9" width="3" height="7.6" fill="#1c1c1c"/>
<rect x="342.5" y="738.9" width="2.8" height="3.6" fill="#1c1c1c"/>
<rect x="348" y="738.9" width="3" height="7.6" fill="#1c1c1c"/>
<text x="351.2" y="754.84" font-size="8.8" text-anchor="end" fill="#2a2a2a" stroke="#2a2a2a" stroke-width="0.13" transform="rotate(-45 351.2 754.84)">116</text>
<rect x="353.7" y="738.9" width="2.8" height="3.6" fill="#1c1c1c"/>
<rect x="359.2" y="738.9" width="3" height="7.6" fill="#1c1c1c"/>
<rect x="364.9" y="738.9" width="2.8" height="3.6" fill="#1c1c1c"/>
<rect x="370.4" y="738.9" width="3" height="7.6" fill="#1c1c1c"/>
<text x="373.6" y="754.84" font-size="8.8" text-anchor="end" fill="#2a2a2a" stroke="#2a2a2a" stroke-width="0.13" transform="rotate(-45 373.6 754.84)">121</text>
<rect x="376.1" y="738.9" width="2.8" height="3.6" fill="#1c1c1c"/>
<text x="214" y="780.8" font-size="14.3" text-anchor="middle" fill="#2a2a2a" stroke="#2a2a2a" stroke-width="0.21">Age (days)</text>
<text x="4.1" y="567.3" font-size="14.8" text-anchor="start" fill="#1a1a1a" stroke="#1a1a1a" stroke-width="0.22">E</text>
<text x="17.3" y="733" transform="rotate(-90 17.3 733)" fill="#2a2a2a" stroke="#2a2a2a" stroke-width="0.2" font-size="17">N<tspan font-size="12.85"> (+/- Frequency Baseline)</tspan></text>
<text x="382.7" y="565.5" font-size="12.6" text-anchor="end" fill="#1a1a1a" stroke="#1a1a1a" stroke-width="0.19">SOD1-G93A</text>
<rect x="467.5" y="571.66" width="3" height="84.84" fill="#080808"/>
<rect x="473.1" y="578.73" width="3" height="84.62" fill="#080808"/>
<rect x="478.7" y="578.73" width="3" height="84.62" fill="#080808"/>
<rect x="484.3" y="585.8" width="3" height="84.4" fill="#080808"/>
<rect x="489.9" y="578.73" width="3" height="84.62" fill="#080808"/>
<rect x="495.5" y="578.73" width="3" height="84.62" fill="#080808"/>
<rect x="501.1" y="571.66" width="3" height="84.84" fill="#080808"/>
<rect x="506.7" y="578.73" width="3" height="84.62" fill="#080808"/>
<rect x="512.3" y="578.73" width="3" height="84.62" fill="#080808"/>
<rect x="517.9" y="571.66" width="3" height="84.84" fill="#080808"/>
<rect x="523.5" y="571.66" width="3" height="84.84" fill="#080808"/>
<rect x="529.1" y="571.66" width="3" height="84.84" fill="#080808"/>
<rect x="534.7" y="585.8" width="3" height="84.4" fill="#080808"/>
<rect x="540.3" y="578.73" width="3" height="84.62" fill="#080808"/>
<rect x="545.9" y="578.73" width="3" height="84.62" fill="#080808"/>
<rect x="551.5" y="571.66" width="3" height="84.84" fill="#080808"/>
<rect x="557.1" y="578.73" width="3" height="84.62" fill="#080808"/>
<rect x="562.7" y="578.73" width="3" height="84.62" fill="#080808"/>
<rect x="568.3" y="585.8" width="3" height="84.4" fill="#080808"/>
<rect x="573.9" y="578.73" width="3" height="84.62" fill="#080808"/>
<rect x="579.5" y="578.73" width="3" height="84.62" fill="#080808"/>
<rect x="585.1" y="578.73" width="3" height="84.62" fill="#080808"/>
<rect x="590.7" y="578.73" width="3" height="84.62" fill="#080808"/>
<rect x="596.3" y="585.8" width="3" height="84.4" fill="#080808"/>
<rect x="601.9" y="578.73" width="3" height="84.62" fill="#080808"/>
<rect x="607.5" y="578.73" width="3" height="84.62" fill="#080808"/>
<rect x="613.1" y="578.73" width="3" height="91.47" fill="#080808"/>
<rect x="618.7" y="578.73" width="3" height="84.62" fill="#080808"/>
<rect x="624.3" y="585.8" width="3" height="84.4" fill="#080808"/>
<rect x="629.9" y="578.73" width="3" height="84.62" fill="#080808"/>
<rect x="635.5" y="578.73" width="3" height="84.62" fill="#080808"/>
<rect x="641.1" y="578.73" width="3" height="84.62" fill="#080808"/>
<rect x="646.7" y="585.8" width="3" height="84.4" fill="#080808"/>
<rect x="652.3" y="578.73" width="3" height="84.62" fill="#080808"/>
<rect x="657.9" y="578.73" width="3" height="84.62" fill="#080808"/>
<rect x="663.5" y="578.73" width="3" height="84.62" fill="#080808"/>
<rect x="669.1" y="585.8" width="3" height="84.4" fill="#080808"/>
<rect x="674.7" y="578.73" width="3" height="84.62" fill="#080808"/>
<rect x="680.3" y="585.8" width="3" height="84.4" fill="#080808"/>
<rect x="685.9" y="585.8" width="3" height="84.4" fill="#080808"/>
<rect x="691.5" y="592.87" width="3" height="84.18" fill="#080808"/>
<rect x="697.1" y="578.73" width="3" height="84.62" fill="#080808"/>
<rect x="702.7" y="592.87" width="3" height="84.18" fill="#080808"/>
<rect x="708.3" y="599.94" width="3" height="83.96" fill="#080808"/>
<rect x="713.9" y="578.73" width="3" height="84.62" fill="#080808"/>
<rect x="719.5" y="585.8" width="3" height="84.4" fill="#080808"/>
<rect x="725.1" y="578.73" width="3" height="84.62" fill="#080808"/>
<rect x="730.7" y="578.73" width="3" height="84.62" fill="#080808"/>
<rect x="736.3" y="585.8" width="3" height="84.4" fill="#080808"/>
<rect x="741.9" y="585.8" width="3" height="84.4" fill="#080808"/>
<rect x="747.5" y="585.8" width="3" height="84.4" fill="#080808"/>
<rect x="753.1" y="607.01" width="3" height="83.74" fill="#080808"/>
<rect x="758.7" y="592.87" width="3" height="84.18" fill="#080808"/>
<rect x="764.3" y="607.01" width="3" height="83.74" fill="#080808"/>
<rect x="769.9" y="607.01" width="3" height="83.74" fill="#080808"/>
<rect x="775.5" y="607.01" width="3" height="83.74" fill="#080808"/>
<rect x="781.1" y="599.94" width="3" height="83.96" fill="#080808"/>
<rect x="786.7" y="614.08" width="3" height="83.52" fill="#080808"/>
<rect x="463.9" y="655.15" width="331.1" height="2.7" fill="#b9b9b9"/>
<rect x="462.5" y="570.4" width="2.8" height="170.05" fill="#1c1c1c"/>
<rect x="456.3" y="737.65" width="338.7" height="2.8" fill="#1c1c1c"/>
<rect x="456.3" y="570.45" width="7.6" height="2.6" fill="#1c1c1c"/>
<text x="452" y="575.05" font-size="9.2" text-anchor="end" fill="#2a2a2a" stroke="#2a2a2a" stroke-width="0.14">12</text>
<rect x="456.3" y="600.1" width="7.6" height="2.6" fill="#1c1c1c"/>
<text x="452" y="604.7" font-size="9.2" text-anchor="end" fill="#2a2a2a" stroke="#2a2a2a" stroke-width="0.14">8</text>
<rect x="456.3" y="627.6" width="7.6" height="2.6" fill="#1c1c1c"/>
<text x="452" y="632.2" font-size="9.2" text-anchor="end" fill="#2a2a2a" stroke="#2a2a2a" stroke-width="0.14">4</text>
<rect x="456.3" y="655.2" width="7.6" height="2.6" fill="#1c1c1c"/>
<text x="452" y="659.8" font-size="9.2" text-anchor="end" fill="#2a2a2a" stroke="#2a2a2a" stroke-width="0.14">0</text>
<rect x="456.3" y="682.8" width="7.6" height="2.6" fill="#1c1c1c"/>
<text x="452" y="687.4" font-size="9.2" text-anchor="end" fill="#2a2a2a" stroke="#2a2a2a" stroke-width="0.14">-4</text>
<rect x="456.3" y="710.3" width="7.6" height="2.6" fill="#1c1c1c"/>
<text x="452" y="714.9" font-size="9.2" text-anchor="end" fill="#2a2a2a" stroke="#2a2a2a" stroke-width="0.14">-8</text>
<text x="452" y="742.35" font-size="9.2" text-anchor="end" fill="#2a2a2a" stroke="#2a2a2a" stroke-width="0.14">-12</text>
<rect x="468" y="739.05" width="3" height="8.8" fill="#1c1c1c"/>
<text x="471.3" y="758.45" font-size="9.1" text-anchor="end" fill="#2a2a2a" stroke="#2a2a2a" stroke-width="0.14" transform="rotate(-45 471.3 758.45)">64</text>
<rect x="473.71" y="739.05" width="2.8" height="4.2" fill="#1c1c1c"/>
<rect x="479.22" y="739.05" width="3" height="8.8" fill="#1c1c1c"/>
<rect x="484.93" y="739.05" width="2.8" height="4.2" fill="#1c1c1c"/>
<rect x="490.44" y="739.05" width="3" height="8.8" fill="#1c1c1c"/>
<text x="493.74" y="758.45" font-size="9.1" text-anchor="end" fill="#2a2a2a" stroke="#2a2a2a" stroke-width="0.14" transform="rotate(-45 493.74 758.45)">68</text>
<rect x="496.15" y="739.05" width="2.8" height="4.2" fill="#1c1c1c"/>
<rect x="501.66" y="739.05" width="3" height="8.8" fill="#1c1c1c"/>
<rect x="507.37" y="739.05" width="2.8" height="4.2" fill="#1c1c1c"/>
<rect x="512.88" y="739.05" width="3" height="8.8" fill="#1c1c1c"/>
<text x="516.18" y="758.45" font-size="9.1" text-anchor="end" fill="#2a2a2a" stroke="#2a2a2a" stroke-width="0.14" transform="rotate(-45 516.18 758.45)">72</text>
<rect x="518.59" y="739.05" width="2.8" height="4.2" fill="#1c1c1c"/>
<rect x="524.1" y="739.05" width="3" height="8.8" fill="#1c1c1c"/>
<rect x="529.81" y="739.05" width="2.8" height="4.2" fill="#1c1c1c"/>
<rect x="535.32" y="739.05" width="3" height="8.8" fill="#1c1c1c"/>
<text x="538.62" y="758.45" font-size="9.1" text-anchor="end" fill="#2a2a2a" stroke="#2a2a2a" stroke-width="0.14" transform="rotate(-45 538.62 758.45)">76</text>
<rect x="541.03" y="739.05" width="2.8" height="4.2" fill="#1c1c1c"/>
<rect x="546.54" y="739.05" width="3" height="8.8" fill="#1c1c1c"/>
<rect x="552.25" y="739.05" width="2.8" height="4.2" fill="#1c1c1c"/>
<rect x="557.76" y="739.05" width="3" height="8.8" fill="#1c1c1c"/>
<text x="561.06" y="758.45" font-size="9.1" text-anchor="end" fill="#2a2a2a" stroke="#2a2a2a" stroke-width="0.14" transform="rotate(-45 561.06 758.45)">80</text>
<rect x="563.47" y="739.05" width="2.8" height="4.2" fill="#1c1c1c"/>
<rect x="568.98" y="739.05" width="3" height="8.8" fill="#1c1c1c"/>
<rect x="574.69" y="739.05" width="2.8" height="4.2" fill="#1c1c1c"/>
<rect x="580.2" y="739.05" width="3" height="8.8" fill="#1c1c1c"/>
<text x="583.5" y="758.45" font-size="9.1" text-anchor="end" fill="#2a2a2a" stroke="#2a2a2a" stroke-width="0.14" transform="rotate(-45 583.5 758.45)">84</text>
<rect x="585.91" y="739.05" width="2.8" height="4.2" fill="#1c1c1c"/>
<rect x="591.42" y="739.05" width="3" height="8.8" fill="#1c1c1c"/>
<rect x="597.13" y="739.05" width="2.8" height="4.2" fill="#1c1c1c"/>
<rect x="602.64" y="739.05" width="3" height="8.8" fill="#1c1c1c"/>
<text x="605.94" y="758.45" font-size="9.1" text-anchor="end" fill="#2a2a2a" stroke="#2a2a2a" stroke-width="0.14" transform="rotate(-45 605.94 758.45)">88</text>
<rect x="608.35" y="739.05" width="2.8" height="4.2" fill="#1c1c1c"/>
<rect x="613.86" y="739.05" width="3" height="8.8" fill="#1c1c1c"/>
<rect x="619.57" y="739.05" width="2.8" height="4.2" fill="#1c1c1c"/>
<rect x="625.08" y="739.05" width="3" height="8.8" fill="#1c1c1c"/>
<text x="628.38" y="758.45" font-size="9.1" text-anchor="end" fill="#2a2a2a" stroke="#2a2a2a" stroke-width="0.14" transform="rotate(-45 628.38 758.45)">92</text>
<rect x="630.79" y="739.05" width="2.8" height="4.2" fill="#1c1c1c"/>
<rect x="636.3" y="739.05" width="3" height="8.8" fill="#1c1c1c"/>
<rect x="642.01" y="739.05" width="2.8" height="4.2" fill="#1c1c1c"/>
<rect x="647.52" y="739.05" width="3" height="8.8" fill="#1c1c1c"/>
<text x="650.82" y="758.45" font-size="9.1" text-anchor="end" fill="#2a2a2a" stroke="#2a2a2a" stroke-width="0.14" transform="rotate(-45 650.82 758.45)">96</text>
<rect x="653.23" y="739.05" width="2.8" height="4.2" fill="#1c1c1c"/>
<rect x="658.74" y="739.05" width="3" height="8.8" fill="#1c1c1c"/>
<rect x="664.45" y="739.05" width="2.8" height="4.2" fill="#1c1c1c"/>
<rect x="669.96" y="739.05" width="3" height="8.8" fill="#1c1c1c"/>
<text x="673.26" y="754.87" font-size="9.1" text-anchor="end" fill="#2a2a2a" stroke="#2a2a2a" stroke-width="0.14" transform="rotate(-45 673.26 754.87)">100</text>
<rect x="675.67" y="739.05" width="2.8" height="4.2" fill="#1c1c1c"/>
<rect x="681.18" y="739.05" width="3" height="8.8" fill="#1c1c1c"/>
<rect x="686.89" y="739.05" width="2.8" height="4.2" fill="#1c1c1c"/>
<rect x="692.4" y="739.05" width="3" height="8.8" fill="#1c1c1c"/>
<text x="695.7" y="754.87" font-size="9.1" text-anchor="end" fill="#2a2a2a" stroke="#2a2a2a" stroke-width="0.14" transform="rotate(-45 695.7 754.87)">104</text>
<rect x="698.11" y="739.05" width="2.8" height="4.2" fill="#1c1c1c"/>
<rect x="703.62" y="739.05" width="3" height="8.8" fill="#1c1c1c"/>
<rect x="709.33" y="739.05" width="2.8" height="4.2" fill="#1c1c1c"/>
<rect x="714.84" y="739.05" width="3" height="8.8" fill="#1c1c1c"/>
<text x="718.14" y="754.87" font-size="9.1" text-anchor="end" fill="#2a2a2a" stroke="#2a2a2a" stroke-width="0.14" transform="rotate(-45 718.14 754.87)">108</text>
<rect x="720.55" y="739.05" width="2.8" height="4.2" fill="#1c1c1c"/>
<rect x="726.06" y="739.05" width="3" height="8.8" fill="#1c1c1c"/>
<rect x="731.77" y="739.05" width="2.8" height="4.2" fill="#1c1c1c"/>
<rect x="737.28" y="739.05" width="3" height="8.8" fill="#1c1c1c"/>
<text x="740.58" y="754.87" font-size="9.1" text-anchor="end" fill="#2a2a2a" stroke="#2a2a2a" stroke-width="0.14" transform="rotate(-45 740.58 754.87)">112</text>
<rect x="742.99" y="739.05" width="2.8" height="4.2" fill="#1c1c1c"/>
<rect x="748.5" y="739.05" width="3" height="8.8" fill="#1c1c1c"/>
<rect x="754.21" y="739.05" width="2.8" height="4.2" fill="#1c1c1c"/>
<rect x="759.72" y="739.05" width="3" height="8.8" fill="#1c1c1c"/>
<text x="763.02" y="754.87" font-size="9.1" text-anchor="end" fill="#2a2a2a" stroke="#2a2a2a" stroke-width="0.14" transform="rotate(-45 763.02 754.87)">116</text>
<rect x="765.43" y="739.05" width="2.8" height="4.2" fill="#1c1c1c"/>
<rect x="770.94" y="739.05" width="3" height="8.8" fill="#1c1c1c"/>
<rect x="776.65" y="739.05" width="2.8" height="4.2" fill="#1c1c1c"/>
<rect x="782.16" y="739.05" width="3" height="8.8" fill="#1c1c1c"/>
<text x="785.46" y="754.87" font-size="9.1" text-anchor="end" fill="#2a2a2a" stroke="#2a2a2a" stroke-width="0.14" transform="rotate(-45 785.46 754.87)">121</text>
<rect x="787.87" y="739.05" width="2.8" height="4.2" fill="#1c1c1c"/>
<text x="625.4" y="780.8" font-size="14.3" text-anchor="middle" fill="#2a2a2a" stroke="#2a2a2a" stroke-width="0.21">Age (days)</text>
<text x="415" y="567.5" font-size="14.8" text-anchor="start" fill="#1a1a1a" stroke="#1a1a1a" stroke-width="0.22">F</text>
<text x="429.2" y="720.8" transform="rotate(-90 429.2 720.8)" fill="#2a2a2a" stroke="#2a2a2a" stroke-width="0.2" font-size="17">N<tspan font-size="12.75"> (+/- Force Baseline)</tspan></text>
<text x="795" y="565.5" font-size="12.6" text-anchor="end" fill="#1a1a1a" stroke="#1a1a1a" stroke-width="0.19">SOD1-G93A</text>
</svg>
</body>
</html>
